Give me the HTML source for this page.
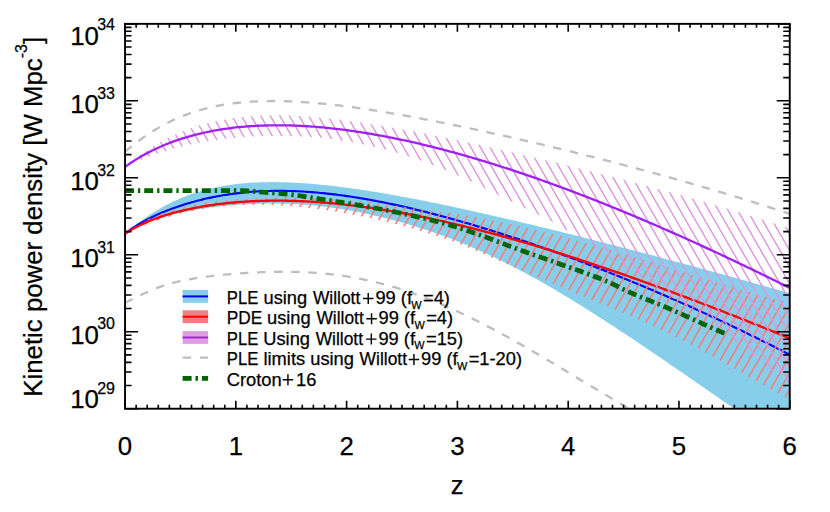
<!DOCTYPE html>
<html><head><meta charset="utf-8"><title>Kinetic power density</title>
<style>
html,body{margin:0;padding:0;background:#fff;}
body{width:830px;height:512px;overflow:hidden;position:relative;font-family:"Liberation Sans",sans-serif;}
</style></head><body>
<svg width="830" height="512" viewBox="0 0 830 512" style="position:absolute;left:0;top:0">
<defs>
<clipPath id="plot"><rect x="125.05" y="23.85" width="664.7" height="384.84999999999997"/></clipPath>
<clipPath id="cpurple"><path d="M125.05,166.90 L127.27,165.00 L129.50,163.15 L131.72,161.35 L133.94,159.60 L136.17,157.89 L138.39,156.23 L140.61,154.62 L142.83,153.04 L145.06,151.51 L147.28,150.02 L149.50,148.58 L151.73,147.17 L153.95,145.80 L156.17,144.47 L158.40,143.17 L160.62,141.92 L162.84,140.70 L165.07,139.52 L167.29,138.37 L169.51,137.26 L171.73,136.18 L173.96,135.14 L176.18,134.13 L178.40,133.16 L180.63,132.21 L182.85,131.30 L185.07,130.42 L187.30,129.57 L189.52,128.76 L191.74,127.97 L193.97,127.21 L196.19,126.48 L198.41,125.78 L200.63,125.10 L202.86,124.46 L205.08,123.84 L207.30,123.24 L209.53,122.67 L211.75,122.13 L213.97,121.61 L216.20,121.12 L218.42,120.65 L220.64,120.20 L222.87,119.78 L225.09,119.38 L227.31,119.00 L229.53,118.64 L231.76,118.30 L233.98,117.99 L236.20,117.69 L238.43,117.41 L240.65,117.16 L242.87,116.92 L245.10,116.70 L247.32,116.49 L249.54,116.31 L251.77,116.14 L253.99,115.99 L256.21,115.86 L258.43,115.74 L260.66,115.63 L262.88,115.55 L265.10,115.47 L267.33,115.42 L269.55,115.37 L271.77,115.34 L274.00,115.33 L276.22,115.32 L278.44,115.33 L280.67,115.36 L282.89,115.39 L285.11,115.44 L287.33,115.50 L289.56,115.57 L291.78,115.65 L294.00,115.74 L296.23,115.85 L298.45,115.96 L300.67,116.09 L302.90,116.22 L305.12,116.36 L307.34,116.52 L309.57,116.68 L311.79,116.85 L314.01,117.03 L316.23,117.22 L318.46,117.42 L320.68,117.63 L322.90,117.84 L325.13,118.06 L327.35,118.29 L329.57,118.53 L331.80,118.77 L334.02,119.02 L336.24,119.28 L338.47,119.55 L340.69,119.82 L342.91,120.10 L345.13,120.38 L347.36,120.67 L349.58,120.97 L351.80,121.27 L354.03,121.58 L356.25,121.89 L358.47,122.21 L360.70,122.53 L362.92,122.86 L365.14,123.20 L367.37,123.53 L369.59,123.88 L371.81,124.23 L374.03,124.58 L376.26,124.94 L378.48,125.30 L380.70,125.66 L382.93,126.03 L385.15,126.41 L387.37,126.79 L389.60,127.17 L391.82,127.55 L394.04,127.94 L396.27,128.34 L398.49,128.73 L400.71,129.13 L402.93,129.54 L405.16,129.94 L407.38,130.35 L409.60,130.77 L411.83,131.18 L414.05,131.60 L416.27,132.03 L418.50,132.45 L420.72,132.88 L422.94,133.31 L425.17,133.74 L427.39,134.18 L429.61,134.62 L431.83,135.06 L434.06,135.50 L436.28,135.95 L438.50,136.40 L440.73,136.85 L442.95,137.30 L445.17,137.76 L447.40,138.21 L449.62,138.67 L451.84,139.13 L454.07,139.60 L456.29,140.06 L458.51,140.53 L460.73,141.00 L462.96,141.48 L465.18,141.95 L467.40,142.43 L469.63,142.90 L471.85,143.38 L474.07,143.86 L476.30,144.35 L478.52,144.83 L480.74,145.32 L482.97,145.81 L485.19,146.30 L487.41,146.79 L489.63,147.28 L491.86,147.78 L494.08,148.28 L496.30,148.78 L498.53,149.28 L500.75,149.78 L502.97,150.28 L505.20,150.79 L507.42,151.29 L509.64,151.80 L511.87,152.31 L514.09,152.82 L516.31,153.33 L518.53,153.85 L520.76,154.36 L522.98,154.88 L525.20,155.40 L527.43,155.92 L529.65,156.44 L531.87,156.96 L534.10,157.49 L536.32,158.01 L538.54,158.54 L540.77,159.07 L542.99,159.60 L545.21,160.13 L547.43,160.66 L549.66,161.20 L551.88,161.73 L554.10,162.27 L556.33,162.81 L558.55,163.35 L560.77,163.89 L563.00,164.43 L565.22,164.97 L567.44,165.52 L569.67,166.07 L571.89,166.61 L574.11,167.16 L576.33,167.72 L578.56,168.27 L580.78,168.82 L583.00,169.38 L585.23,169.93 L587.45,170.49 L589.67,171.05 L591.90,171.61 L594.12,172.18 L596.34,172.74 L598.57,173.31 L600.79,173.87 L603.01,174.44 L605.23,175.01 L607.46,175.58 L609.68,176.16 L611.90,176.73 L614.13,177.31 L616.35,177.88 L618.57,178.46 L620.80,179.04 L623.02,179.62 L625.24,180.21 L627.47,180.79 L629.69,181.38 L631.91,181.97 L634.13,182.56 L636.36,183.15 L638.58,183.74 L640.80,184.34 L643.03,184.93 L645.25,185.53 L647.47,186.13 L649.70,186.73 L651.92,187.34 L654.14,187.94 L656.37,188.55 L658.59,189.16 L660.81,189.77 L663.03,190.38 L665.26,190.99 L667.48,191.60 L669.70,192.22 L671.93,192.84 L674.15,193.46 L676.37,194.08 L678.60,194.71 L680.82,195.33 L683.04,195.96 L685.27,196.59 L687.49,197.22 L689.71,197.85 L691.93,198.49 L694.16,199.12 L696.38,199.76 L698.60,200.40 L700.83,201.04 L703.05,201.69 L705.27,202.33 L707.50,202.98 L709.72,203.63 L711.94,204.28 L714.17,204.94 L716.39,205.59 L718.61,206.25 L720.83,206.91 L723.06,207.57 L725.28,208.24 L727.50,208.90 L729.73,209.57 L731.95,210.24 L734.17,210.91 L736.40,211.59 L738.62,212.26 L740.84,212.94 L743.07,213.62 L745.29,214.31 L747.51,214.99 L749.73,215.68 L751.96,216.37 L754.18,217.06 L756.40,217.75 L758.63,218.45 L760.85,219.15 L763.07,219.85 L765.30,220.55 L767.52,221.25 L769.74,221.96 L771.97,222.67 L774.19,223.38 L776.41,224.10 L778.63,224.81 L780.86,225.53 L783.08,226.25 L785.30,226.97 L787.53,227.70 L789.75,228.43 L789.75,384.08 L787.53,382.44 L785.30,380.77 L783.08,379.09 L780.86,377.40 L778.63,375.69 L776.41,373.97 L774.19,372.24 L771.97,370.49 L769.74,368.74 L767.52,366.98 L765.30,365.21 L763.07,363.43 L760.85,361.65 L758.63,359.87 L756.40,358.08 L754.18,356.29 L751.96,354.50 L749.73,352.71 L747.51,350.92 L745.29,349.14 L743.07,347.36 L740.84,345.59 L738.62,343.82 L736.40,342.06 L734.17,340.31 L731.95,338.58 L729.73,336.85 L727.50,335.14 L725.28,333.45 L723.06,331.78 L720.83,330.12 L718.61,328.48 L716.39,326.86 L714.17,325.26 L711.94,323.68 L709.72,322.12 L707.50,320.57 L705.27,319.04 L703.05,317.52 L700.83,316.02 L698.60,314.53 L696.38,313.05 L694.16,311.59 L691.93,310.14 L689.71,308.70 L687.49,307.27 L685.27,305.86 L683.04,304.45 L680.82,303.04 L678.60,301.65 L676.37,300.26 L674.15,298.88 L671.93,297.50 L669.70,296.13 L667.48,294.76 L665.26,293.40 L663.03,292.03 L660.81,290.66 L658.59,289.30 L656.37,287.93 L654.14,286.56 L651.92,285.19 L649.70,283.81 L647.47,282.43 L645.25,281.04 L643.03,279.64 L640.80,278.23 L638.58,276.82 L636.36,275.39 L634.13,273.96 L631.91,272.52 L629.69,271.07 L627.47,269.62 L625.24,268.16 L623.02,266.69 L620.80,265.22 L618.57,263.75 L616.35,262.27 L614.13,260.79 L611.90,259.31 L609.68,257.82 L607.46,256.34 L605.23,254.86 L603.01,253.38 L600.79,251.89 L598.57,250.42 L596.34,248.94 L594.12,247.47 L591.90,246.00 L589.67,244.54 L587.45,243.09 L585.23,241.65 L583.00,240.21 L580.78,238.78 L578.56,237.36 L576.33,235.96 L574.11,234.56 L571.89,233.19 L569.67,231.82 L567.44,230.47 L565.22,229.14 L563.00,227.83 L560.77,226.54 L558.55,225.27 L556.33,224.03 L554.10,222.80 L551.88,221.60 L549.66,220.43 L547.43,219.27 L545.21,218.13 L542.99,217.01 L540.77,215.90 L538.54,214.81 L536.32,213.72 L534.10,212.64 L531.87,211.56 L529.65,210.49 L527.43,209.41 L525.20,208.33 L522.98,207.25 L520.76,206.16 L518.53,205.06 L516.31,203.96 L514.09,202.86 L511.87,201.75 L509.64,200.63 L507.42,199.52 L505.20,198.40 L502.97,197.28 L500.75,196.16 L498.53,195.04 L496.30,193.93 L494.08,192.81 L491.86,191.69 L489.63,190.58 L487.41,189.47 L485.19,188.37 L482.97,187.27 L480.74,186.17 L478.52,185.09 L476.30,184.01 L474.07,182.93 L471.85,181.87 L469.63,180.82 L467.40,179.78 L465.18,178.75 L462.96,177.73 L460.73,176.73 L458.51,175.73 L456.29,174.74 L454.07,173.77 L451.84,172.81 L449.62,171.85 L447.40,170.91 L445.17,169.98 L442.95,169.07 L440.73,168.16 L438.50,167.27 L436.28,166.38 L434.06,165.51 L431.83,164.65 L429.61,163.81 L427.39,162.97 L425.17,162.15 L422.94,161.34 L420.72,160.54 L418.50,159.75 L416.27,158.98 L414.05,158.21 L411.83,157.46 L409.60,156.73 L407.38,156.00 L405.16,155.29 L402.93,154.59 L400.71,153.90 L398.49,153.23 L396.27,152.56 L394.04,151.92 L391.82,151.28 L389.60,150.66 L387.37,150.04 L385.15,149.45 L382.93,148.86 L380.70,148.29 L378.48,147.73 L376.26,147.19 L374.03,146.66 L371.81,146.14 L369.59,145.63 L367.37,145.14 L365.14,144.66 L362.92,144.19 L360.70,143.74 L358.47,143.30 L356.25,142.87 L354.03,142.46 L351.80,142.06 L349.58,141.67 L347.36,141.30 L345.13,140.94 L342.91,140.59 L340.69,140.26 L338.47,139.94 L336.24,139.63 L334.02,139.34 L331.80,139.06 L329.57,138.79 L327.35,138.53 L325.13,138.29 L322.90,138.06 L320.68,137.85 L318.46,137.64 L316.23,137.45 L314.01,137.27 L311.79,137.10 L309.57,136.95 L307.34,136.81 L305.12,136.67 L302.90,136.56 L300.67,136.45 L298.45,136.35 L296.23,136.27 L294.00,136.19 L291.78,136.13 L289.56,136.07 L287.33,136.03 L285.11,136.00 L282.89,135.97 L280.67,135.96 L278.44,135.95 L276.22,135.96 L274.00,135.97 L271.77,135.99 L269.55,136.02 L267.33,136.06 L265.10,136.11 L262.88,136.17 L260.66,136.23 L258.43,136.31 L256.21,136.40 L253.99,136.50 L251.77,136.61 L249.54,136.73 L247.32,136.86 L245.10,137.00 L242.87,137.16 L240.65,137.32 L238.43,137.50 L236.20,137.68 L233.98,137.88 L231.76,138.10 L229.53,138.32 L227.31,138.56 L225.09,138.81 L222.87,139.07 L220.64,139.34 L218.42,139.63 L216.20,139.93 L213.97,140.25 L211.75,140.58 L209.53,140.92 L207.30,141.28 L205.08,141.66 L202.86,142.04 L200.63,142.45 L198.41,142.86 L196.19,143.30 L193.97,143.75 L191.74,144.22 L189.52,144.70 L187.30,145.20 L185.07,145.71 L182.85,146.25 L180.63,146.80 L178.40,147.37 L176.18,147.95 L173.96,148.56 L171.73,149.18 L169.51,149.82 L167.29,150.48 L165.07,151.16 L162.84,151.86 L160.62,152.58 L158.40,153.32 L156.17,154.08 L153.95,154.86 L151.73,155.66 L149.50,156.48 L147.28,157.32 L145.06,158.18 L142.83,159.07 L140.61,159.97 L138.39,160.90 L136.17,161.84 L133.94,162.81 L131.72,163.80 L129.50,164.82 L127.27,165.85 L125.05,166.90Z"/></clipPath>
<clipPath id="cred"><path d="M125.05,233.70 L127.27,231.95 L129.50,230.29 L131.72,228.71 L133.94,227.20 L136.17,225.76 L138.39,224.39 L140.61,223.08 L142.83,221.83 L145.06,220.64 L147.28,219.51 L149.50,218.42 L151.73,217.38 L153.95,216.39 L156.17,215.45 L158.40,214.55 L160.62,213.68 L162.84,212.86 L165.07,212.07 L167.29,211.32 L169.51,210.60 L171.73,209.91 L173.96,209.26 L176.18,208.63 L178.40,208.03 L180.63,207.46 L182.85,206.91 L185.07,206.39 L187.30,205.89 L189.52,205.41 L191.74,204.95 L193.97,204.52 L196.19,204.11 L198.41,203.71 L200.63,203.34 L202.86,202.98 L205.08,202.63 L207.30,202.31 L209.53,202.00 L211.75,201.70 L213.97,201.42 L216.20,201.16 L218.42,200.91 L220.64,200.67 L222.87,200.44 L225.09,200.22 L227.31,200.02 L229.53,199.83 L231.76,199.65 L233.98,199.48 L236.20,199.31 L238.43,199.16 L240.65,199.02 L242.87,198.89 L245.10,198.76 L247.32,198.65 L249.54,198.54 L251.77,198.44 L253.99,198.35 L256.21,198.26 L258.43,198.18 L260.66,198.11 L262.88,198.05 L265.10,197.99 L267.33,197.94 L269.55,197.89 L271.77,197.85 L274.00,197.82 L276.22,197.79 L278.44,197.76 L280.67,197.74 L282.89,197.73 L285.11,197.72 L287.33,197.72 L289.56,197.71 L291.78,197.72 L294.00,197.73 L296.23,197.74 L298.45,197.76 L300.67,197.79 L302.90,197.82 L305.12,197.86 L307.34,197.90 L309.57,197.95 L311.79,198.01 L314.01,198.07 L316.23,198.14 L318.46,198.21 L320.68,198.29 L322.90,198.38 L325.13,198.48 L327.35,198.58 L329.57,198.69 L331.80,198.80 L334.02,198.93 L336.24,199.06 L338.47,199.20 L340.69,199.34 L342.91,199.50 L345.13,199.65 L347.36,199.82 L349.58,200.00 L351.80,200.18 L354.03,200.37 L356.25,200.57 L358.47,200.77 L360.70,200.98 L362.92,201.20 L365.14,201.43 L367.37,201.66 L369.59,201.91 L371.81,202.16 L374.03,202.41 L376.26,202.68 L378.48,202.95 L380.70,203.23 L382.93,203.52 L385.15,203.81 L387.37,204.12 L389.60,204.43 L391.82,204.74 L394.04,205.07 L396.27,205.40 L398.49,205.74 L400.71,206.09 L402.93,206.44 L405.16,206.80 L407.38,207.16 L409.60,207.52 L411.83,207.89 L414.05,208.25 L416.27,208.60 L418.50,208.95 L420.72,209.30 L422.94,209.64 L425.17,209.96 L427.39,210.28 L429.61,210.58 L431.83,210.87 L434.06,211.15 L436.28,211.41 L438.50,211.65 L440.73,211.88 L442.95,212.09 L445.17,212.31 L447.40,212.54 L449.62,212.79 L451.84,213.06 L454.07,213.34 L456.29,213.65 L458.51,213.97 L460.73,214.31 L462.96,214.66 L465.18,215.02 L467.40,215.39 L469.63,215.78 L471.85,216.18 L474.07,216.58 L476.30,216.99 L478.52,217.42 L480.74,217.84 L482.97,218.28 L485.19,218.71 L487.41,219.16 L489.63,219.61 L491.86,220.06 L494.08,220.52 L496.30,220.99 L498.53,221.46 L500.75,221.93 L502.97,222.41 L505.20,222.89 L507.42,223.38 L509.64,223.87 L511.87,224.36 L514.09,224.86 L516.31,225.36 L518.53,225.87 L520.76,226.38 L522.98,226.89 L525.20,227.41 L527.43,227.92 L529.65,228.45 L531.87,228.97 L534.10,229.50 L536.32,230.03 L538.54,230.57 L540.77,231.10 L542.99,231.65 L545.21,232.19 L547.43,232.74 L549.66,233.29 L551.88,233.85 L554.10,234.41 L556.33,234.97 L558.55,235.54 L560.77,236.11 L563.00,236.69 L565.22,237.26 L567.44,237.85 L569.67,238.43 L571.89,239.02 L574.11,239.61 L576.33,240.21 L578.56,240.81 L580.78,241.41 L583.00,242.02 L585.23,242.63 L587.45,243.25 L589.67,243.86 L591.90,244.49 L594.12,245.11 L596.34,245.74 L598.57,246.38 L600.79,247.01 L603.01,247.65 L605.23,248.30 L607.46,248.95 L609.68,249.60 L611.90,250.25 L614.13,250.91 L616.35,251.57 L618.57,252.23 L620.80,252.90 L623.02,253.56 L625.24,254.23 L627.47,254.91 L629.69,255.58 L631.91,256.26 L634.13,256.93 L636.36,257.61 L638.58,258.29 L640.80,258.97 L643.03,259.66 L645.25,260.34 L647.47,261.03 L649.70,261.71 L651.92,262.40 L654.14,263.09 L656.37,263.77 L658.59,264.46 L660.81,265.15 L663.03,265.84 L665.26,266.53 L667.48,267.22 L669.70,267.91 L671.93,268.60 L674.15,269.29 L676.37,269.98 L678.60,270.67 L680.82,271.36 L683.04,272.04 L685.27,272.73 L687.49,273.42 L689.71,274.10 L691.93,274.79 L694.16,275.47 L696.38,276.16 L698.60,276.84 L700.83,277.52 L703.05,278.20 L705.27,278.88 L707.50,279.56 L709.72,280.23 L711.94,280.91 L714.17,281.58 L716.39,282.26 L718.61,282.93 L720.83,283.59 L723.06,284.26 L725.28,284.93 L727.50,285.59 L729.73,286.25 L731.95,286.91 L734.17,287.57 L736.40,288.23 L738.62,288.88 L740.84,289.53 L743.07,290.18 L745.29,290.83 L747.51,291.48 L749.73,292.12 L751.96,292.76 L754.18,293.40 L756.40,294.04 L758.63,294.67 L760.85,295.30 L763.07,295.93 L765.30,296.56 L767.52,297.18 L769.74,297.80 L771.97,298.42 L774.19,299.04 L776.41,299.65 L778.63,300.26 L780.86,300.87 L783.08,301.47 L785.30,302.08 L787.53,302.67 L789.75,303.27 L789.75,399.92 L787.53,398.69 L785.30,397.47 L783.08,396.24 L780.86,395.00 L778.63,393.76 L776.41,392.52 L774.19,391.28 L771.97,390.03 L769.74,388.78 L767.52,387.52 L765.30,386.27 L763.07,385.01 L760.85,383.75 L758.63,382.48 L756.40,381.22 L754.18,379.95 L751.96,378.69 L749.73,377.42 L747.51,376.16 L745.29,374.89 L743.07,373.62 L740.84,372.35 L738.62,371.09 L736.40,369.82 L734.17,368.56 L731.95,367.30 L729.73,366.04 L727.50,364.78 L725.28,363.53 L723.06,362.28 L720.83,361.03 L718.61,359.79 L716.39,358.54 L714.17,357.31 L711.94,356.08 L709.72,354.85 L707.50,353.63 L705.27,352.42 L703.05,351.21 L700.83,350.01 L698.60,348.81 L696.38,347.63 L694.16,346.45 L691.93,345.28 L689.71,344.11 L687.49,342.96 L685.27,341.82 L683.04,340.68 L680.82,339.56 L678.60,338.44 L676.37,337.33 L674.15,336.23 L671.93,335.14 L669.70,334.05 L667.48,332.98 L665.26,331.91 L663.03,330.85 L660.81,329.79 L658.59,328.75 L656.37,327.71 L654.14,326.68 L651.92,325.65 L649.70,324.63 L647.47,323.62 L645.25,322.62 L643.03,321.62 L640.80,320.63 L638.58,319.64 L636.36,318.66 L634.13,317.69 L631.91,316.72 L629.69,315.75 L627.47,314.79 L625.24,313.84 L623.02,312.89 L620.80,311.94 L618.57,311.00 L616.35,310.06 L614.13,309.13 L611.90,308.20 L609.68,307.27 L607.46,306.35 L605.23,305.42 L603.01,304.50 L600.79,303.59 L598.57,302.67 L596.34,301.75 L594.12,300.84 L591.90,299.93 L589.67,299.02 L587.45,298.11 L585.23,297.19 L583.00,296.28 L580.78,295.37 L578.56,294.46 L576.33,293.54 L574.11,292.62 L571.89,291.71 L569.67,290.79 L567.44,289.86 L565.22,288.94 L563.00,288.02 L560.77,287.09 L558.55,286.16 L556.33,285.23 L554.10,284.30 L551.88,283.36 L549.66,282.42 L547.43,281.49 L545.21,280.55 L542.99,279.60 L540.77,278.66 L538.54,277.72 L536.32,276.77 L534.10,275.82 L531.87,274.87 L529.65,273.93 L527.43,272.97 L525.20,272.02 L522.98,271.07 L520.76,270.12 L518.53,269.16 L516.31,268.21 L514.09,267.25 L511.87,266.29 L509.64,265.34 L507.42,264.38 L505.20,263.42 L502.97,262.46 L500.75,261.51 L498.53,260.55 L496.30,259.59 L494.08,258.63 L491.86,257.68 L489.63,256.72 L487.41,255.76 L485.19,254.81 L482.97,253.85 L480.74,252.90 L478.52,251.95 L476.30,251.00 L474.07,250.05 L471.85,249.11 L469.63,248.17 L467.40,247.24 L465.18,246.32 L462.96,245.42 L460.73,244.52 L458.51,243.63 L456.29,242.76 L454.07,241.91 L451.84,241.08 L449.62,240.26 L447.40,239.47 L445.17,238.70 L442.95,237.96 L440.73,237.23 L438.50,236.51 L436.28,235.79 L434.06,235.09 L431.83,234.40 L429.61,233.71 L427.39,233.03 L425.17,232.35 L422.94,231.69 L420.72,231.03 L418.50,230.38 L416.27,229.74 L414.05,229.11 L411.83,228.48 L409.60,227.87 L407.38,227.26 L405.16,226.65 L402.93,226.06 L400.71,225.47 L398.49,224.89 L396.27,224.32 L394.04,223.76 L391.82,223.20 L389.60,222.66 L387.37,222.12 L385.15,221.58 L382.93,221.06 L380.70,220.54 L378.48,220.03 L376.26,219.53 L374.03,219.04 L371.81,218.55 L369.59,218.07 L367.37,217.59 L365.14,217.13 L362.92,216.67 L360.70,216.22 L358.47,215.77 L356.25,215.34 L354.03,214.91 L351.80,214.48 L349.58,214.07 L347.36,213.66 L345.13,213.26 L342.91,212.86 L340.69,212.48 L338.47,212.10 L336.24,211.73 L334.02,211.37 L331.80,211.01 L329.57,210.67 L327.35,210.33 L325.13,210.00 L322.90,209.68 L320.68,209.37 L318.46,209.06 L316.23,208.77 L314.01,208.49 L311.79,208.21 L309.57,207.94 L307.34,207.68 L305.12,207.44 L302.90,207.20 L300.67,206.97 L298.45,206.75 L296.23,206.54 L294.00,206.34 L291.78,206.16 L289.56,205.98 L287.33,205.81 L285.11,205.66 L282.89,205.51 L280.67,205.38 L278.44,205.25 L276.22,205.14 L274.00,205.04 L271.77,204.95 L269.55,204.88 L267.33,204.81 L265.10,204.76 L262.88,204.72 L260.66,204.70 L258.43,204.68 L256.21,204.68 L253.99,204.69 L251.77,204.72 L249.54,204.75 L247.32,204.81 L245.10,204.87 L242.87,204.95 L240.65,205.04 L238.43,205.15 L236.20,205.28 L233.98,205.41 L231.76,205.57 L229.53,205.73 L227.31,205.92 L225.09,206.11 L222.87,206.33 L220.64,206.56 L218.42,206.81 L216.20,207.07 L213.97,207.35 L211.75,207.64 L209.53,207.96 L207.30,208.29 L205.08,208.64 L202.86,209.00 L200.63,209.38 L198.41,209.79 L196.19,210.20 L193.97,210.64 L191.74,211.10 L189.52,211.57 L187.30,212.07 L185.07,212.58 L182.85,213.11 L180.63,213.67 L178.40,214.24 L176.18,214.83 L173.96,215.44 L171.73,216.07 L169.51,216.72 L167.29,217.39 L165.07,218.08 L162.84,218.79 L160.62,219.52 L158.40,220.27 L156.17,221.04 L153.95,221.83 L151.73,222.64 L149.50,223.47 L147.28,224.31 L145.06,225.18 L142.83,226.06 L140.61,226.96 L138.39,227.88 L136.17,228.82 L133.94,229.77 L131.72,230.73 L129.50,231.71 L127.27,232.70 L125.05,233.70Z"/></clipPath>
</defs>
<g clip-path="url(#plot)">
<path d="M125.05,233.70 L127.27,231.84 L129.50,230.01 L131.72,228.20 L133.94,226.43 L136.17,224.69 L138.39,222.99 L140.61,221.33 L142.83,219.70 L145.06,218.12 L147.28,216.57 L149.50,215.07 L151.73,213.61 L153.95,212.18 L156.17,210.80 L158.40,209.47 L160.62,208.17 L162.84,206.91 L165.07,205.69 L167.29,204.51 L169.51,203.38 L171.73,202.27 L173.96,201.21 L176.18,200.19 L178.40,199.20 L180.63,198.25 L182.85,197.33 L185.07,196.44 L187.30,195.60 L189.52,194.78 L191.74,194.00 L193.97,193.24 L196.19,192.52 L198.41,191.83 L200.63,191.17 L202.86,190.54 L205.08,189.94 L207.30,189.36 L209.53,188.81 L211.75,188.29 L213.97,187.79 L216.20,187.32 L218.42,186.87 L220.64,186.45 L222.87,186.05 L225.09,185.67 L227.31,185.32 L229.53,184.98 L231.76,184.67 L233.98,184.38 L236.20,184.11 L238.43,183.85 L240.65,183.62 L242.87,183.40 L245.10,183.21 L247.32,183.03 L249.54,182.87 L251.77,182.72 L253.99,182.59 L256.21,182.48 L258.43,182.38 L260.66,182.30 L262.88,182.23 L265.10,182.18 L267.33,182.14 L269.55,182.12 L271.77,182.11 L274.00,182.11 L276.22,182.12 L278.44,182.15 L280.67,182.19 L282.89,182.24 L285.11,182.30 L287.33,182.38 L289.56,182.46 L291.78,182.56 L294.00,182.66 L296.23,182.78 L298.45,182.90 L300.67,183.04 L302.90,183.19 L305.12,183.34 L307.34,183.51 L309.57,183.68 L311.79,183.86 L314.01,184.05 L316.23,184.25 L318.46,184.45 L320.68,184.67 L322.90,184.89 L325.13,185.12 L327.35,185.36 L329.57,185.60 L331.80,185.85 L334.02,186.11 L336.24,186.37 L338.47,186.64 L340.69,186.92 L342.91,187.20 L345.13,187.49 L347.36,187.79 L349.58,188.09 L351.80,188.40 L354.03,188.71 L356.25,189.03 L358.47,189.35 L360.70,189.68 L362.92,190.02 L365.14,190.36 L367.37,190.70 L369.59,191.05 L371.81,191.40 L374.03,191.76 L376.26,192.12 L378.48,192.49 L380.70,192.86 L382.93,193.24 L385.15,193.62 L387.37,194.00 L389.60,194.39 L391.82,194.78 L394.04,195.17 L396.27,195.57 L398.49,195.97 L400.71,196.38 L402.93,196.79 L405.16,197.20 L407.38,197.62 L409.60,198.04 L411.83,198.46 L414.05,198.89 L416.27,199.32 L418.50,199.75 L420.72,200.19 L422.94,200.62 L425.17,201.06 L427.39,201.51 L429.61,201.96 L431.83,202.40 L434.06,202.86 L436.28,203.31 L438.50,203.77 L440.73,204.23 L442.95,204.69 L445.17,205.16 L447.40,205.62 L449.62,206.09 L451.84,206.56 L454.07,207.04 L456.29,207.51 L458.51,207.99 L460.73,208.47 L462.96,208.95 L465.18,209.44 L467.40,209.93 L469.63,210.42 L471.85,210.91 L474.07,211.40 L476.30,211.89 L478.52,212.39 L480.74,212.89 L482.97,213.39 L485.19,213.89 L487.41,214.39 L489.63,214.90 L491.86,215.41 L494.08,215.91 L496.30,216.43 L498.53,216.94 L500.75,217.45 L502.97,217.97 L505.20,218.48 L507.42,219.00 L509.64,219.52 L511.87,220.04 L514.09,220.57 L516.31,221.09 L518.53,221.62 L520.76,222.14 L522.98,222.67 L525.20,223.20 L527.43,223.73 L529.65,224.27 L531.87,224.80 L534.10,225.33 L536.32,225.87 L538.54,226.41 L540.77,226.95 L542.99,227.49 L545.21,228.03 L547.43,228.57 L549.66,229.12 L551.88,229.66 L554.10,230.21 L556.33,230.76 L558.55,231.30 L560.77,231.85 L563.00,232.41 L565.22,232.96 L567.44,233.51 L569.67,234.06 L571.89,234.62 L574.11,235.18 L576.33,235.73 L578.56,236.29 L580.78,236.85 L583.00,237.41 L585.23,237.97 L587.45,238.54 L589.67,239.10 L591.90,239.66 L594.12,240.23 L596.34,240.80 L598.57,241.36 L600.79,241.93 L603.01,242.50 L605.23,243.07 L607.46,243.64 L609.68,244.21 L611.90,244.79 L614.13,245.36 L616.35,245.94 L618.57,246.51 L620.80,247.09 L623.02,247.67 L625.24,248.24 L627.47,248.82 L629.69,249.40 L631.91,249.98 L634.13,250.57 L636.36,251.15 L638.58,251.73 L640.80,252.32 L643.03,252.90 L645.25,253.49 L647.47,254.07 L649.70,254.66 L651.92,255.25 L654.14,255.84 L656.37,256.43 L658.59,257.02 L660.81,257.61 L663.03,258.20 L665.26,258.80 L667.48,259.39 L669.70,259.99 L671.93,260.58 L674.15,261.18 L676.37,261.77 L678.60,262.37 L680.82,262.97 L683.04,263.57 L685.27,264.17 L687.49,264.77 L689.71,265.37 L691.93,265.97 L694.16,266.58 L696.38,267.18 L698.60,267.79 L700.83,268.39 L703.05,269.00 L705.27,269.60 L707.50,270.21 L709.72,270.82 L711.94,271.43 L714.17,272.04 L716.39,272.65 L718.61,273.26 L720.83,273.87 L723.06,274.48 L725.28,275.10 L727.50,275.71 L729.73,276.32 L731.95,276.94 L734.17,277.56 L736.40,278.17 L738.62,278.79 L740.84,279.41 L743.07,280.03 L745.29,280.65 L747.51,281.27 L749.73,281.89 L751.96,282.51 L754.18,283.13 L756.40,283.75 L758.63,284.38 L760.85,285.00 L763.07,285.63 L765.30,286.25 L767.52,286.88 L769.74,287.51 L771.97,288.13 L774.19,288.76 L776.41,289.39 L778.63,290.02 L780.86,290.65 L783.08,291.28 L785.30,291.91 L787.53,292.55 L789.75,293.18 L789.75,408.70 L787.53,408.70 L785.30,408.70 L783.08,408.70 L780.86,408.70 L778.63,408.70 L776.41,408.70 L774.19,408.70 L771.97,408.70 L769.74,408.70 L767.52,408.70 L765.30,408.70 L763.07,408.70 L760.85,408.70 L758.63,408.70 L756.40,408.70 L754.18,408.70 L751.96,408.70 L749.73,408.70 L747.51,408.70 L745.29,408.70 L743.07,408.70 L740.84,408.70 L738.62,408.70 L736.40,408.70 L734.17,408.65 L731.95,407.11 L729.73,405.57 L727.50,404.03 L725.28,402.49 L723.06,400.95 L720.83,399.41 L718.61,397.87 L716.39,396.33 L714.17,394.79 L711.94,393.25 L709.72,391.71 L707.50,390.18 L705.27,388.64 L703.05,387.10 L700.83,385.56 L698.60,384.02 L696.38,382.49 L694.16,380.95 L691.93,379.42 L689.71,377.88 L687.49,376.35 L685.27,374.82 L683.04,373.29 L680.82,371.76 L678.60,370.23 L676.37,368.70 L674.15,367.17 L671.93,365.65 L669.70,364.13 L667.48,362.60 L665.26,361.08 L663.03,359.57 L660.81,358.05 L658.59,356.53 L656.37,355.02 L654.14,353.51 L651.92,352.00 L649.70,350.50 L647.47,348.99 L645.25,347.49 L643.03,345.99 L640.80,344.50 L638.58,343.00 L636.36,341.51 L634.13,340.02 L631.91,338.54 L629.69,337.06 L627.47,335.58 L625.24,334.11 L623.02,332.63 L620.80,331.17 L618.57,329.70 L616.35,328.24 L614.13,326.79 L611.90,325.33 L609.68,323.88 L607.46,322.44 L605.23,321.00 L603.01,319.56 L600.79,318.13 L598.57,316.71 L596.34,315.28 L594.12,313.87 L591.90,312.45 L589.67,311.05 L587.45,309.64 L585.23,308.25 L583.00,306.86 L580.78,305.47 L578.56,304.09 L576.33,302.71 L574.11,301.34 L571.89,299.98 L569.67,298.62 L567.44,297.27 L565.22,295.93 L563.00,294.59 L560.77,293.26 L558.55,291.94 L556.33,290.62 L554.10,289.31 L551.88,288.01 L549.66,286.71 L547.43,285.42 L545.21,284.14 L542.99,282.87 L540.77,281.61 L538.54,280.35 L536.32,279.11 L534.10,277.87 L531.87,276.64 L529.65,275.42 L527.43,274.21 L525.20,273.01 L522.98,271.82 L520.76,270.63 L518.53,269.46 L516.31,268.30 L514.09,267.15 L511.87,266.01 L509.64,264.88 L507.42,263.75 L505.20,262.64 L502.97,261.54 L500.75,260.45 L498.53,259.37 L496.30,258.31 L494.08,257.25 L491.86,256.20 L489.63,255.16 L487.41,254.13 L485.19,253.12 L482.97,252.11 L480.74,251.11 L478.52,250.13 L476.30,249.15 L474.07,248.19 L471.85,247.23 L469.63,246.29 L467.40,245.36 L465.18,244.44 L462.96,243.52 L460.73,242.62 L458.51,241.73 L456.29,240.85 L454.07,239.98 L451.84,239.12 L449.62,238.27 L447.40,237.43 L445.17,236.61 L442.95,235.79 L440.73,234.98 L438.50,234.19 L436.28,233.40 L434.06,232.62 L431.83,231.86 L429.61,231.10 L427.39,230.36 L425.17,229.62 L422.94,228.90 L420.72,228.18 L418.50,227.48 L416.27,226.78 L414.05,226.10 L411.83,225.42 L409.60,224.76 L407.38,224.10 L405.16,223.45 L402.93,222.82 L400.71,222.19 L398.49,221.57 L396.27,220.96 L394.04,220.36 L391.82,219.77 L389.60,219.19 L387.37,218.62 L385.15,218.06 L382.93,217.50 L380.70,216.96 L378.48,216.43 L376.26,215.91 L374.03,215.39 L371.81,214.89 L369.59,214.40 L367.37,213.91 L365.14,213.44 L362.92,212.98 L360.70,212.53 L358.47,212.09 L356.25,211.66 L354.03,211.24 L351.80,210.83 L349.58,210.43 L347.36,210.04 L345.13,209.66 L342.91,209.29 L340.69,208.94 L338.47,208.59 L336.24,208.26 L334.02,207.94 L331.80,207.62 L329.57,207.32 L327.35,207.04 L325.13,206.76 L322.90,206.49 L320.68,206.24 L318.46,205.99 L316.23,205.76 L314.01,205.54 L311.79,205.33 L309.57,205.13 L307.34,204.94 L305.12,204.77 L302.90,204.61 L300.67,204.45 L298.45,204.31 L296.23,204.19 L294.00,204.07 L291.78,203.96 L289.56,203.87 L287.33,203.79 L285.11,203.72 L282.89,203.66 L280.67,203.61 L278.44,203.57 L276.22,203.55 L274.00,203.54 L271.77,203.54 L269.55,203.54 L267.33,203.56 L265.10,203.60 L262.88,203.64 L260.66,203.69 L258.43,203.75 L256.21,203.83 L253.99,203.91 L251.77,204.01 L249.54,204.11 L247.32,204.22 L245.10,204.35 L242.87,204.48 L240.65,204.62 L238.43,204.77 L236.20,204.93 L233.98,205.10 L231.76,205.28 L229.53,205.46 L227.31,205.66 L225.09,205.86 L222.87,206.08 L220.64,206.31 L218.42,206.55 L216.20,206.79 L213.97,207.06 L211.75,207.33 L209.53,207.61 L207.30,207.91 L205.08,208.22 L202.86,208.55 L200.63,208.89 L198.41,209.24 L196.19,209.61 L193.97,209.99 L191.74,210.39 L189.52,210.80 L187.30,211.24 L185.07,211.69 L182.85,212.16 L180.63,212.64 L178.40,213.15 L176.18,213.68 L173.96,214.23 L171.73,214.79 L169.51,215.39 L167.29,216.00 L165.07,216.64 L162.84,217.31 L160.62,218.00 L158.40,218.72 L156.17,219.47 L153.95,220.24 L151.73,221.05 L149.50,221.89 L147.28,222.76 L145.06,223.67 L142.83,224.62 L140.61,225.60 L138.39,226.62 L136.17,227.68 L133.94,228.79 L131.72,229.94 L129.50,231.15 L127.27,232.40 L125.05,233.70Z" fill="#87ceeb" stroke="none"/>
<path d="M125.00,233.70 L127.22,231.98 L129.45,230.31 L131.67,228.73 L133.90,227.23 L136.12,225.79 L138.34,224.42 L140.57,223.11 L142.79,221.85 L145.02,220.63 L147.24,219.46 L149.46,218.33 L151.69,217.24 L153.91,216.18 L156.14,215.15 L158.36,214.16 L160.59,213.20 L162.81,212.26 L165.03,211.35 L167.26,210.47 L169.48,209.61 L171.71,208.78 L173.93,207.97 L176.15,207.18 L178.38,206.42 L180.60,205.68 L182.83,204.96 L185.05,204.25 L187.27,203.58 L189.50,202.92 L191.72,202.28 L193.95,201.66 L196.17,201.06 L198.39,200.48 L200.62,199.91 L202.84,199.37 L205.07,198.85 L207.29,198.34 L209.52,197.85 L211.74,197.38 L213.96,196.93 L216.19,196.50 L218.41,196.08 L220.64,195.68 L222.86,195.30 L225.08,194.93 L227.31,194.59 L229.53,194.25 L231.76,193.94 L233.98,193.64 L236.20,193.36 L238.43,193.09 L240.65,192.84 L242.88,192.61 L245.10,192.39 L247.32,192.18 L249.55,191.99 L251.77,191.82 L254.00,191.66 L256.22,191.51 L258.44,191.38 L260.67,191.27 L262.89,191.17 L265.12,191.08 L267.34,191.00 L269.57,190.94 L271.79,190.90 L274.01,190.86 L276.24,190.84 L278.46,190.84 L280.69,190.84 L282.91,190.86 L285.13,190.89 L287.36,190.93 L289.58,190.98 L291.81,191.05 L294.03,191.13 L296.25,191.22 L298.48,191.32 L300.70,191.43 L302.93,191.56 L305.15,191.69 L307.37,191.84 L309.60,191.99 L311.82,192.16 L314.05,192.34 L316.27,192.53 L318.49,192.72 L320.72,192.93 L322.94,193.15 L325.17,193.38 L327.39,193.62 L329.62,193.86 L331.84,194.12 L334.06,194.38 L336.29,194.66 L338.51,194.94 L340.74,195.23 L342.96,195.53 L345.18,195.84 L347.41,196.16 L349.63,196.49 L351.86,196.82 L354.08,197.17 L356.30,197.52 L358.53,197.87 L360.75,198.24 L362.98,198.62 L365.20,199.00 L367.42,199.39 L369.65,199.78 L371.87,200.19 L374.10,200.60 L376.32,201.02 L378.55,201.44 L380.77,201.87 L382.99,202.31 L385.22,202.76 L387.44,203.21 L389.67,203.67 L391.89,204.14 L394.11,204.61 L396.34,205.09 L398.56,205.57 L400.79,206.06 L403.01,206.56 L405.23,207.06 L407.46,207.57 L409.68,208.08 L411.91,208.60 L414.13,209.13 L416.35,209.66 L418.58,210.20 L420.80,210.74 L423.03,211.29 L425.25,211.85 L427.47,212.40 L429.70,212.97 L431.92,213.54 L434.15,214.11 L436.37,214.69 L438.60,215.28 L440.82,215.87 L443.04,216.46 L445.27,217.06 L447.49,217.67 L449.72,218.28 L451.94,218.89 L454.16,219.51 L456.39,220.14 L458.61,220.76 L460.84,221.40 L463.06,222.04 L465.28,222.68 L467.51,223.32 L469.73,223.98 L471.96,224.63 L474.18,225.29 L476.40,225.95 L478.63,226.62 L480.85,227.30 L483.08,227.97 L485.30,228.65 L487.53,229.34 L489.75,230.03 L491.97,230.72 L494.20,231.42 L496.42,232.12 L498.65,232.82 L500.87,233.53 L503.09,234.25 L505.32,234.96 L507.54,235.68 L509.77,236.41 L511.99,237.14 L514.21,237.87 L516.44,238.61 L518.66,239.35 L520.89,240.09 L523.11,240.84 L525.33,241.59 L527.56,242.34 L529.78,243.10 L532.01,243.86 L534.23,244.63 L536.45,245.40 L538.68,246.17 L540.90,246.95 L543.13,247.73 L545.35,248.51 L547.58,249.30 L549.80,250.09 L552.02,250.88 L554.25,251.68 L556.47,252.48 L558.70,253.29 L560.92,254.09 L563.14,254.90 L565.37,255.72 L567.59,256.54 L569.82,257.36 L572.04,258.18 L574.26,259.01 L576.49,259.84 L578.71,260.68 L580.94,261.52 L583.16,262.36 L585.38,263.20 L587.61,264.05 L589.83,264.90 L592.06,265.76 L594.28,266.61 L596.51,267.48 L598.73,268.34 L600.95,269.21 L603.18,270.08 L605.40,270.95 L607.63,271.83 L609.85,272.71 L612.07,273.60 L614.30,274.48 L616.52,275.38 L618.75,276.27 L620.97,277.17 L623.19,278.07 L625.42,278.97 L627.64,279.88 L629.87,280.79 L632.09,281.70 L634.31,282.62 L636.54,283.54 L638.76,284.46 L640.99,285.39 L643.21,286.32 L645.43,287.25 L647.66,288.18 L649.88,289.12 L652.11,290.07 L654.33,291.01 L656.56,291.96 L658.78,292.91 L661.00,293.87 L663.23,294.82 L665.45,295.79 L667.68,296.75 L669.90,297.72 L672.12,298.69 L674.35,299.66 L676.57,300.64 L678.80,301.62 L681.02,302.61 L683.24,303.60 L685.47,304.59 L687.69,305.58 L689.92,306.58 L692.14,307.58 L694.36,308.58 L696.59,309.59 L698.81,310.60 L701.04,311.61 L703.26,312.63 L705.48,313.65 L707.71,314.67 L709.93,315.70 L712.16,316.73 L714.38,317.76 L716.61,318.80 L718.83,319.83 L721.05,320.88 L723.28,321.92 L725.50,322.97 L727.73,324.03 L729.95,325.08 L732.17,326.14 L734.40,327.20 L736.62,328.27 L738.85,329.34 L741.07,330.41 L743.29,331.49 L745.52,332.57 L747.74,333.65 L749.97,334.73 L752.19,335.82 L754.41,336.92 L756.64,338.01 L758.86,339.11 L761.09,340.21 L763.31,341.32 L765.54,342.43 L767.76,343.54 L769.98,344.66 L772.21,345.78 L774.43,346.90 L776.66,348.03 L778.88,349.16 L781.10,350.29 L783.33,351.43 L785.55,352.57 L787.78,353.71 L790.00,354.86" stroke="#0000ff" stroke-width="2.1" fill="none"/>
<g><path d="M-396.70,0 L-692.31,512 M-387.10,0 L-682.71,512 M-377.50,0 L-673.11,512 M-367.90,0 L-663.51,512 M-358.30,0 L-653.91,512 M-348.70,0 L-644.31,512 M-339.10,0 L-634.71,512 M-329.50,0 L-625.11,512 M-319.90,0 L-615.51,512 M-310.30,0 L-605.91,512 M-300.70,0 L-596.31,512 M-291.10,0 L-586.71,512 M-281.50,0 L-577.11,512 M-271.90,0 L-567.51,512 M-262.30,0 L-557.91,512 M-252.70,0 L-548.31,512 M-243.10,0 L-538.71,512 M-233.50,0 L-529.11,512 M-223.90,0 L-519.51,512 M-214.30,0 L-509.91,512 M-204.70,0 L-500.31,512 M-195.10,0 L-490.71,512 M-185.50,0 L-481.11,512 M-175.90,0 L-471.51,512 M-166.30,0 L-461.91,512 M-156.70,0 L-452.31,512 M-147.10,0 L-442.71,512 M-137.50,0 L-433.11,512 M-127.90,0 L-423.51,512 M-118.30,0 L-413.91,512 M-108.70,0 L-404.31,512 M-99.10,0 L-394.71,512 M-89.50,0 L-385.11,512 M-79.90,0 L-375.51,512 M-70.30,0 L-365.91,512 M-60.70,0 L-356.31,512 M-51.10,0 L-346.71,512 M-41.50,0 L-337.11,512 M-31.90,0 L-327.51,512 M-22.30,0 L-317.91,512 M-12.70,0 L-308.31,512 M-3.10,0 L-298.71,512 M6.50,0 L-289.11,512 M16.10,0 L-279.51,512 M25.70,0 L-269.91,512 M35.30,0 L-260.31,512 M44.90,0 L-250.71,512 M54.50,0 L-241.11,512 M64.10,0 L-231.51,512 M73.70,0 L-221.91,512 M83.30,0 L-212.31,512 M92.90,0 L-202.71,512 M102.50,0 L-193.11,512 M112.10,0 L-183.51,512 M121.70,0 L-173.91,512 M131.30,0 L-164.31,512 M140.90,0 L-154.71,512 M150.50,0 L-145.11,512 M160.10,0 L-135.51,512 M169.70,0 L-125.91,512 M179.30,0 L-116.31,512 M188.90,0 L-106.71,512 M198.50,0 L-97.11,512 M208.10,0 L-87.51,512 M217.70,0 L-77.91,512 M227.30,0 L-68.31,512 M236.90,0 L-58.71,512 M246.50,0 L-49.11,512 M256.10,0 L-39.51,512 M265.70,0 L-29.91,512 M275.30,0 L-20.31,512 M284.90,0 L-10.71,512 M294.50,0 L-1.11,512 M304.10,0 L8.49,512 M313.70,0 L18.09,512 M323.30,0 L27.69,512 M332.90,0 L37.29,512 M342.50,0 L46.89,512 M352.10,0 L56.49,512 M361.70,0 L66.09,512 M371.30,0 L75.69,512 M380.90,0 L85.29,512 M390.50,0 L94.89,512 M400.10,0 L104.49,512 M409.70,0 L114.09,512 M419.30,0 L123.69,512 M428.90,0 L133.29,512 M438.50,0 L142.89,512 M448.10,0 L152.49,512 M457.70,0 L162.09,512 M467.30,0 L171.69,512 M476.90,0 L181.29,512 M486.50,0 L190.89,512 M496.10,0 L200.49,512 M505.70,0 L210.09,512 M515.30,0 L219.69,512 M524.90,0 L229.29,512 M534.50,0 L238.89,512 M544.10,0 L248.49,512 M553.70,0 L258.09,512 M563.30,0 L267.69,512 M572.90,0 L277.29,512 M582.50,0 L286.89,512 M592.10,0 L296.49,512 M601.70,0 L306.09,512 M611.30,0 L315.69,512 M620.90,0 L325.29,512 M630.50,0 L334.89,512 M640.10,0 L344.49,512 M649.70,0 L354.09,512 M659.30,0 L363.69,512 M668.90,0 L373.29,512 M678.50,0 L382.89,512 M688.10,0 L392.49,512 M697.70,0 L402.09,512 M707.30,0 L411.69,512 M716.90,0 L421.29,512 M726.50,0 L430.89,512 M736.10,0 L440.49,512 M745.70,0 L450.09,512 M755.30,0 L459.69,512 M764.90,0 L469.29,512 M774.50,0 L478.89,512 M784.10,0 L488.49,512 M793.70,0 L498.09,512 M803.30,0 L507.69,512 M812.90,0 L517.29,512 M822.50,0 L526.89,512 M832.10,0 L536.49,512 M841.70,0 L546.09,512 M851.30,0 L555.69,512 M860.90,0 L565.29,512 M870.50,0 L574.89,512 M880.10,0 L584.49,512 M889.70,0 L594.09,512 M899.30,0 L603.69,512 M908.90,0 L613.29,512 M918.50,0 L622.89,512 M928.10,0 L632.49,512 M937.70,0 L642.09,512 M947.30,0 L651.69,512 M956.90,0 L661.29,512 M966.50,0 L670.89,512 M976.10,0 L680.49,512 M985.70,0 L690.09,512 M995.30,0 L699.69,512 M1004.90,0 L709.29,512 M1014.50,0 L718.89,512 M1024.10,0 L728.49,512 M1033.70,0 L738.09,512 M1043.30,0 L747.69,512 M1052.90,0 L757.29,512 M1062.50,0 L766.89,512 M1072.10,0 L776.49,512 M1081.70,0 L786.09,512 M1091.30,0 L795.69,512 M1100.90,0 L805.29,512 M1110.50,0 L814.89,512 M1120.10,0 L824.49,512 M1129.70,0 L834.09,512 M1139.30,0 L843.69,512 M1148.90,0 L853.29,512 M1158.50,0 L862.89,512 M1168.10,0 L872.49,512 M1177.70,0 L882.09,512 M1187.30,0 L891.69,512 M1196.90,0 L901.29,512 M1206.50,0 L910.89,512 M1216.10,0 L920.49,512 M1225.70,0 L930.09,512 M1235.30,0 L939.69,512 M1244.90,0 L949.29,512 M1254.50,0 L958.89,512 M1264.10,0 L968.49,512 M1273.70,0 L978.09,512 M1283.30,0 L987.69,512 M1292.90,0 L997.29,512" stroke="#f08080" stroke-width="1.6" fill="none" clip-path="url(#cred)"/></g>
<path d="M125.00,233.70 L127.22,232.29 L129.44,230.91 L131.66,229.60 L133.88,228.36 L136.10,227.16 L138.32,226.02 L140.55,224.93 L142.77,223.88 L144.99,222.88 L147.21,221.92 L149.43,220.99 L151.65,220.10 L153.87,219.24 L156.09,218.42 L158.31,217.62 L160.53,216.86 L162.75,216.12 L164.97,215.41 L167.19,214.72 L169.41,214.06 L171.64,213.42 L173.86,212.80 L176.08,212.21 L178.30,211.63 L180.52,211.08 L182.74,210.54 L184.96,210.02 L187.18,209.52 L189.40,209.04 L191.62,208.57 L193.84,208.13 L196.06,207.69 L198.28,207.28 L200.51,206.88 L202.73,206.49 L204.95,206.12 L207.17,205.76 L209.39,205.42 L211.61,205.09 L213.83,204.77 L216.05,204.47 L218.27,204.18 L220.49,203.90 L222.71,203.64 L224.93,203.39 L227.15,203.15 L229.37,202.92 L231.60,202.70 L233.82,202.50 L236.04,202.31 L238.26,202.13 L240.48,201.96 L242.70,201.80 L244.92,201.65 L247.14,201.51 L249.36,201.39 L251.58,201.27 L253.80,201.16 L256.02,201.07 L258.24,200.98 L260.46,200.91 L262.69,200.84 L264.91,200.79 L267.13,200.74 L269.35,200.70 L271.57,200.68 L273.79,200.66 L276.01,200.65 L278.23,200.65 L280.45,200.66 L282.67,200.68 L284.89,200.71 L287.11,200.75 L289.33,200.79 L291.56,200.85 L293.78,200.91 L296.00,200.98 L298.22,201.06 L300.44,201.15 L302.66,201.25 L304.88,201.35 L307.10,201.47 L309.32,201.59 L311.54,201.72 L313.76,201.85 L315.98,202.00 L318.20,202.15 L320.42,202.31 L322.65,202.48 L324.87,202.65 L327.09,202.84 L329.31,203.03 L331.53,203.23 L333.75,203.43 L335.97,203.64 L338.19,203.86 L340.41,204.09 L342.63,204.32 L344.85,204.56 L347.07,204.81 L349.29,205.07 L351.52,205.33 L353.74,205.60 L355.96,205.87 L358.18,206.15 L360.40,206.44 L362.62,206.73 L364.84,207.03 L367.06,207.34 L369.28,207.66 L371.50,207.98 L373.72,208.30 L375.94,208.63 L378.16,208.97 L380.38,209.32 L382.61,209.67 L384.83,210.03 L387.05,210.39 L389.27,210.76 L391.49,211.13 L393.71,211.51 L395.93,211.90 L398.15,212.29 L400.37,212.69 L402.59,213.09 L404.81,213.50 L407.03,213.91 L409.25,214.33 L411.47,214.75 L413.70,215.18 L415.92,215.62 L418.14,216.06 L420.36,216.51 L422.58,216.96 L424.80,217.41 L427.02,217.88 L429.24,218.34 L431.46,218.81 L433.68,219.29 L435.90,219.77 L438.12,220.26 L440.34,220.75 L442.57,221.24 L444.79,221.74 L447.01,222.25 L449.23,222.76 L451.45,223.27 L453.67,223.79 L455.89,224.32 L458.11,224.84 L460.33,225.38 L462.55,225.91 L464.77,226.46 L466.99,227.00 L469.21,227.55 L471.43,228.11 L473.66,228.67 L475.88,229.23 L478.10,229.80 L480.32,230.37 L482.54,230.94 L484.76,231.52 L486.98,232.11 L489.20,232.69 L491.42,233.29 L493.64,233.88 L495.86,234.48 L498.08,235.08 L500.30,235.69 L502.53,236.30 L504.75,236.92 L506.97,237.54 L509.19,238.16 L511.41,238.78 L513.63,239.41 L515.85,240.05 L518.07,240.68 L520.29,241.33 L522.51,241.97 L524.73,242.62 L526.95,243.27 L529.17,243.92 L531.39,244.58 L533.62,245.24 L535.84,245.91 L538.06,246.57 L540.28,247.25 L542.50,247.92 L544.72,248.60 L546.94,249.28 L549.16,249.96 L551.38,250.65 L553.60,251.34 L555.82,252.04 L558.04,252.73 L560.26,253.43 L562.48,254.14 L564.71,254.84 L566.93,255.55 L569.15,256.26 L571.37,256.98 L573.59,257.69 L575.81,258.42 L578.03,259.14 L580.25,259.87 L582.47,260.59 L584.69,261.33 L586.91,262.06 L589.13,262.80 L591.35,263.54 L593.58,264.28 L595.80,265.03 L598.02,265.78 L600.24,266.53 L602.46,267.28 L604.68,268.04 L606.90,268.80 L609.12,269.56 L611.34,270.32 L613.56,271.09 L615.78,271.86 L618.00,272.63 L620.22,273.40 L622.44,274.18 L624.67,274.95 L626.89,275.74 L629.11,276.52 L631.33,277.30 L633.55,278.09 L635.77,278.88 L637.99,279.68 L640.21,280.47 L642.43,281.27 L644.65,282.07 L646.87,282.87 L649.09,283.67 L651.31,284.48 L653.54,285.28 L655.76,286.09 L657.98,286.91 L660.20,287.72 L662.42,288.54 L664.64,289.36 L666.86,290.18 L669.08,291.00 L671.30,291.82 L673.52,292.65 L675.74,293.48 L677.96,294.31 L680.18,295.14 L682.40,295.97 L684.63,296.81 L686.85,297.65 L689.07,298.49 L691.29,299.33 L693.51,300.17 L695.73,301.02 L697.95,301.87 L700.17,302.72 L702.39,303.57 L704.61,304.42 L706.83,305.27 L709.05,306.13 L711.27,306.99 L713.49,307.85 L715.72,308.71 L717.94,309.57 L720.16,310.44 L722.38,311.30 L724.60,312.17 L726.82,313.04 L729.04,313.91 L731.26,314.78 L733.48,315.66 L735.70,316.53 L737.92,317.41 L740.14,318.29 L742.36,319.17 L744.59,320.05 L746.81,320.93 L749.03,321.82 L751.25,322.71 L753.47,323.59 L755.69,324.48 L757.91,325.37 L760.13,326.26 L762.35,327.16 L764.57,328.05 L766.79,328.95 L769.01,329.85 L771.23,330.75 L773.45,331.65 L775.68,332.55 L777.90,333.45 L780.12,334.36 L782.34,335.26 L784.56,336.17 L786.78,337.08 L789.00,337.98" stroke="#ff0000" stroke-width="2.3" fill="none"/>
<g><path d="M-401.40,0 L-105.79,512 M-391.80,0 L-96.19,512 M-382.20,0 L-86.59,512 M-372.60,0 L-76.99,512 M-363.00,0 L-67.39,512 M-353.40,0 L-57.79,512 M-343.80,0 L-48.19,512 M-334.20,0 L-38.59,512 M-324.60,0 L-28.99,512 M-315.00,0 L-19.39,512 M-305.40,0 L-9.79,512 M-295.80,0 L-0.19,512 M-286.20,0 L9.41,512 M-276.60,0 L19.01,512 M-267.00,0 L28.61,512 M-257.40,0 L38.21,512 M-247.80,0 L47.81,512 M-238.20,0 L57.41,512 M-228.60,0 L67.01,512 M-219.00,0 L76.61,512 M-209.40,0 L86.21,512 M-199.80,0 L95.81,512 M-190.20,0 L105.41,512 M-180.60,0 L115.01,512 M-171.00,0 L124.61,512 M-161.40,0 L134.21,512 M-151.80,0 L143.81,512 M-142.20,0 L153.41,512 M-132.60,0 L163.01,512 M-123.00,0 L172.61,512 M-113.40,0 L182.21,512 M-103.80,0 L191.81,512 M-94.20,0 L201.41,512 M-84.60,0 L211.01,512 M-75.00,0 L220.61,512 M-65.40,0 L230.21,512 M-55.80,0 L239.81,512 M-46.20,0 L249.41,512 M-36.60,0 L259.01,512 M-27.00,0 L268.61,512 M-17.40,0 L278.21,512 M-7.80,0 L287.81,512 M1.80,0 L297.41,512 M11.40,0 L307.01,512 M21.00,0 L316.61,512 M30.60,0 L326.21,512 M40.20,0 L335.81,512 M49.80,0 L345.41,512 M59.40,0 L355.01,512 M69.00,0 L364.61,512 M78.60,0 L374.21,512 M88.20,0 L383.81,512 M97.80,0 L393.41,512 M107.40,0 L403.01,512 M117.00,0 L412.61,512 M126.60,0 L422.21,512 M136.20,0 L431.81,512 M145.80,0 L441.41,512 M155.40,0 L451.01,512 M165.00,0 L460.61,512 M174.60,0 L470.21,512 M184.20,0 L479.81,512 M193.80,0 L489.41,512 M203.40,0 L499.01,512 M213.00,0 L508.61,512 M222.60,0 L518.21,512 M232.20,0 L527.81,512 M241.80,0 L537.41,512 M251.40,0 L547.01,512 M261.00,0 L556.61,512 M270.60,0 L566.21,512 M280.20,0 L575.81,512 M289.80,0 L585.41,512 M299.40,0 L595.01,512 M309.00,0 L604.61,512 M318.60,0 L614.21,512 M328.20,0 L623.81,512 M337.80,0 L633.41,512 M347.40,0 L643.01,512 M357.00,0 L652.61,512 M366.60,0 L662.21,512 M376.20,0 L671.81,512 M385.80,0 L681.41,512 M395.40,0 L691.01,512 M405.00,0 L700.61,512 M414.60,0 L710.21,512 M424.20,0 L719.81,512 M433.80,0 L729.41,512 M443.40,0 L739.01,512 M453.00,0 L748.61,512 M462.60,0 L758.21,512 M472.20,0 L767.81,512 M481.80,0 L777.41,512 M491.40,0 L787.01,512 M501.00,0 L796.61,512 M510.60,0 L806.21,512 M520.20,0 L815.81,512 M529.80,0 L825.41,512 M539.40,0 L835.01,512 M549.00,0 L844.61,512 M558.60,0 L854.21,512 M568.20,0 L863.81,512 M577.80,0 L873.41,512 M587.40,0 L883.01,512 M597.00,0 L892.61,512 M606.60,0 L902.21,512 M616.20,0 L911.81,512 M625.80,0 L921.41,512 M635.40,0 L931.01,512 M645.00,0 L940.61,512 M654.60,0 L950.21,512 M664.20,0 L959.81,512 M673.80,0 L969.41,512 M683.40,0 L979.01,512 M693.00,0 L988.61,512 M702.60,0 L998.21,512 M712.20,0 L1007.81,512 M721.80,0 L1017.41,512 M731.40,0 L1027.01,512 M741.00,0 L1036.61,512 M750.60,0 L1046.21,512 M760.20,0 L1055.81,512 M769.80,0 L1065.41,512 M779.40,0 L1075.01,512 M789.00,0 L1084.61,512 M798.60,0 L1094.21,512 M808.20,0 L1103.81,512 M817.80,0 L1113.41,512 M827.40,0 L1123.01,512 M837.00,0 L1132.61,512 M846.60,0 L1142.21,512 M856.20,0 L1151.81,512 M865.80,0 L1161.41,512 M875.40,0 L1171.01,512 M885.00,0 L1180.61,512 M894.60,0 L1190.21,512 M904.20,0 L1199.81,512 M913.80,0 L1209.41,512 M923.40,0 L1219.01,512 M933.00,0 L1228.61,512 M942.60,0 L1238.21,512 M952.20,0 L1247.81,512 M961.80,0 L1257.41,512 M971.40,0 L1267.01,512 M981.00,0 L1276.61,512 M990.60,0 L1286.21,512 M1000.20,0 L1295.81,512 M1009.80,0 L1305.41,512 M1019.40,0 L1315.01,512 M1029.00,0 L1324.61,512 M1038.60,0 L1334.21,512 M1048.20,0 L1343.81,512 M1057.80,0 L1353.41,512 M1067.40,0 L1363.01,512 M1077.00,0 L1372.61,512 M1086.60,0 L1382.21,512 M1096.20,0 L1391.81,512 M1105.80,0 L1401.41,512 M1115.40,0 L1411.01,512 M1125.00,0 L1420.61,512 M1134.60,0 L1430.21,512 M1144.20,0 L1439.81,512 M1153.80,0 L1449.41,512 M1163.40,0 L1459.01,512 M1173.00,0 L1468.61,512 M1182.60,0 L1478.21,512 M1192.20,0 L1487.81,512 M1201.80,0 L1497.41,512 M1211.40,0 L1507.01,512 M1221.00,0 L1516.61,512 M1230.60,0 L1526.21,512 M1240.20,0 L1535.81,512 M1249.80,0 L1545.41,512 M1259.40,0 L1555.01,512 M1269.00,0 L1564.61,512 M1278.60,0 L1574.21,512 M1288.20,0 L1583.81,512 M1297.80,0 L1593.41,512" stroke="#dd96dd" stroke-width="1.4" fill="none" clip-path="url(#cpurple)"/></g>
<path d="M125.00,166.90 L127.22,165.35 L129.44,163.81 L131.66,162.32 L133.88,160.88 L136.10,159.48 L138.32,158.13 L140.55,156.81 L142.77,155.54 L144.99,154.31 L147.21,153.12 L149.43,151.96 L151.65,150.84 L153.87,149.75 L156.09,148.70 L158.31,147.68 L160.53,146.69 L162.75,145.73 L164.97,144.80 L167.19,143.90 L169.41,143.03 L171.64,142.19 L173.86,141.38 L176.08,140.59 L178.30,139.83 L180.52,139.09 L182.74,138.38 L184.96,137.69 L187.18,137.03 L189.40,136.39 L191.62,135.77 L193.84,135.17 L196.06,134.59 L198.28,134.04 L200.51,133.51 L202.73,132.99 L204.95,132.50 L207.17,132.03 L209.39,131.57 L211.61,131.13 L213.83,130.72 L216.05,130.32 L218.27,129.93 L220.49,129.57 L222.71,129.22 L224.93,128.89 L227.15,128.57 L229.37,128.27 L231.60,127.99 L233.82,127.72 L236.04,127.47 L238.26,127.23 L240.48,127.01 L242.70,126.80 L244.92,126.61 L247.14,126.43 L249.36,126.27 L251.58,126.11 L253.80,125.98 L256.02,125.85 L258.24,125.74 L260.46,125.64 L262.69,125.56 L264.91,125.48 L267.13,125.42 L269.35,125.37 L271.57,125.34 L273.79,125.31 L276.01,125.30 L278.23,125.29 L280.45,125.30 L282.67,125.33 L284.89,125.36 L287.11,125.40 L289.33,125.45 L291.56,125.52 L293.78,125.59 L296.00,125.68 L298.22,125.77 L300.44,125.88 L302.66,126.00 L304.88,126.12 L307.10,126.26 L309.32,126.40 L311.54,126.56 L313.76,126.72 L315.98,126.89 L318.20,127.08 L320.42,127.27 L322.65,127.47 L324.87,127.68 L327.09,127.90 L329.31,128.13 L331.53,128.36 L333.75,128.61 L335.97,128.86 L338.19,129.12 L340.41,129.39 L342.63,129.67 L344.85,129.95 L347.07,130.25 L349.29,130.55 L351.52,130.86 L353.74,131.18 L355.96,131.50 L358.18,131.84 L360.40,132.18 L362.62,132.53 L364.84,132.88 L367.06,133.24 L369.28,133.61 L371.50,133.99 L373.72,134.38 L375.94,134.77 L378.16,135.17 L380.38,135.57 L382.61,135.98 L384.83,136.40 L387.05,136.83 L389.27,137.26 L391.49,137.70 L393.71,138.15 L395.93,138.60 L398.15,139.06 L400.37,139.52 L402.59,140.00 L404.81,140.47 L407.03,140.96 L409.25,141.45 L411.47,141.95 L413.70,142.45 L415.92,142.96 L418.14,143.47 L420.36,143.99 L422.58,144.52 L424.80,145.05 L427.02,145.59 L429.24,146.13 L431.46,146.68 L433.68,147.24 L435.90,147.80 L438.12,148.36 L440.34,148.93 L442.57,149.51 L444.79,150.09 L447.01,150.68 L449.23,151.28 L451.45,151.87 L453.67,152.48 L455.89,153.09 L458.11,153.70 L460.33,154.32 L462.55,154.95 L464.77,155.58 L466.99,156.21 L469.21,156.85 L471.43,157.49 L473.66,158.14 L475.88,158.80 L478.10,159.46 L480.32,160.12 L482.54,160.79 L484.76,161.46 L486.98,162.14 L489.20,162.82 L491.42,163.51 L493.64,164.20 L495.86,164.90 L498.08,165.60 L500.30,166.31 L502.53,167.02 L504.75,167.73 L506.97,168.45 L509.19,169.17 L511.41,169.90 L513.63,170.63 L515.85,171.37 L518.07,172.11 L520.29,172.86 L522.51,173.60 L524.73,174.36 L526.95,175.12 L529.17,175.88 L531.39,176.64 L533.62,177.41 L535.84,178.19 L538.06,178.96 L540.28,179.74 L542.50,180.53 L544.72,181.32 L546.94,182.11 L549.16,182.91 L551.38,183.71 L553.60,184.52 L555.82,185.33 L558.04,186.14 L560.26,186.96 L562.48,187.78 L564.71,188.60 L566.93,189.43 L569.15,190.26 L571.37,191.09 L573.59,191.93 L575.81,192.77 L578.03,193.62 L580.25,194.47 L582.47,195.32 L584.69,196.18 L586.91,197.04 L589.13,197.90 L591.35,198.77 L593.58,199.64 L595.80,200.51 L598.02,201.39 L600.24,202.27 L602.46,203.15 L604.68,204.04 L606.90,204.93 L609.12,205.82 L611.34,206.72 L613.56,207.62 L615.78,208.52 L618.00,209.43 L620.22,210.34 L622.44,211.25 L624.67,212.17 L626.89,213.09 L629.11,214.01 L631.33,214.93 L633.55,215.86 L635.77,216.79 L637.99,217.73 L640.21,218.67 L642.43,219.61 L644.65,220.55 L646.87,221.50 L649.09,222.45 L651.31,223.40 L653.54,224.35 L655.76,225.31 L657.98,226.27 L660.20,227.24 L662.42,228.21 L664.64,229.18 L666.86,230.15 L669.08,231.12 L671.30,232.10 L673.52,233.08 L675.74,234.07 L677.96,235.05 L680.18,236.04 L682.40,237.03 L684.63,238.03 L686.85,239.03 L689.07,240.03 L691.29,241.03 L693.51,242.04 L695.73,243.04 L697.95,244.05 L700.17,245.07 L702.39,246.08 L704.61,247.10 L706.83,248.12 L709.05,249.15 L711.27,250.17 L713.49,251.20 L715.72,252.23 L717.94,253.27 L720.16,254.30 L722.38,255.34 L724.60,256.38 L726.82,257.43 L729.04,258.47 L731.26,259.52 L733.48,260.57 L735.70,261.63 L737.92,262.68 L740.14,263.74 L742.36,264.80 L744.59,265.86 L746.81,266.93 L749.03,268.00 L751.25,269.07 L753.47,270.14 L755.69,271.21 L757.91,272.29 L760.13,273.37 L762.35,274.45 L764.57,275.53 L766.79,276.62 L769.01,277.71 L771.23,278.80 L773.45,279.89 L775.68,280.98 L777.90,282.08 L780.12,283.18 L782.34,284.28 L784.56,285.38 L786.78,286.49 L789.00,287.60" stroke="#a020f0" stroke-width="2.3" fill="none"/>
<path d="M125.00,151.70 L127.22,149.87 L129.44,148.03 L131.66,146.23 L133.88,144.47 L136.10,142.76 L138.32,141.08 L140.55,139.45 L142.77,137.85 L144.99,136.30 L147.21,134.79 L149.43,133.33 L151.65,131.90 L153.87,130.52 L156.09,129.17 L158.31,127.87 L160.53,126.60 L162.75,125.38 L164.97,124.19 L167.19,123.04 L169.41,121.93 L171.64,120.86 L173.86,119.82 L176.08,118.82 L178.30,117.85 L180.52,116.92 L182.74,116.02 L184.96,115.16 L187.18,114.33 L189.40,113.53 L191.62,112.76 L193.84,112.02 L196.06,111.31 L198.28,110.64 L200.51,109.99 L202.73,109.36 L204.95,108.77 L207.17,108.20 L209.39,107.66 L211.61,107.15 L213.83,106.66 L216.05,106.19 L218.27,105.75 L220.49,105.33 L222.71,104.93 L224.93,104.56 L227.15,104.21 L229.37,103.88 L231.60,103.57 L233.82,103.28 L236.04,103.01 L238.26,102.76 L240.48,102.53 L242.70,102.31 L244.92,102.12 L247.14,101.94 L249.36,101.78 L251.58,101.64 L253.80,101.51 L256.02,101.39 L258.24,101.30 L260.46,101.22 L262.69,101.15 L264.91,101.09 L267.13,101.06 L269.35,101.03 L271.57,101.02 L273.79,101.02 L276.01,101.03 L278.23,101.06 L280.45,101.09 L282.67,101.14 L284.89,101.20 L287.11,101.27 L289.33,101.35 L291.56,101.45 L293.78,101.55 L296.00,101.66 L298.22,101.78 L300.44,101.92 L302.66,102.06 L304.88,102.21 L307.10,102.37 L309.32,102.54 L311.54,102.71 L313.76,102.90 L315.98,103.09 L318.20,103.29 L320.42,103.50 L322.65,103.71 L324.87,103.94 L327.09,104.17 L329.31,104.40 L331.53,104.64 L333.75,104.89 L335.97,105.15 L338.19,105.41 L340.41,105.68 L342.63,105.96 L344.85,106.24 L347.07,106.52 L349.29,106.81 L351.52,107.11 L353.74,107.41 L355.96,107.72 L358.18,108.03 L360.40,108.35 L362.62,108.67 L364.84,109.00 L367.06,109.33 L369.28,109.67 L371.50,110.01 L373.72,110.35 L375.94,110.70 L378.16,111.06 L380.38,111.41 L382.61,111.77 L384.83,112.14 L387.05,112.51 L389.27,112.88 L391.49,113.26 L393.71,113.64 L395.93,114.02 L398.15,114.41 L400.37,114.80 L402.59,115.19 L404.81,115.59 L407.03,115.98 L409.25,116.39 L411.47,116.79 L413.70,117.20 L415.92,117.61 L418.14,118.03 L420.36,118.44 L422.58,118.86 L424.80,119.29 L427.02,119.71 L429.24,120.14 L431.46,120.57 L433.68,121.00 L435.90,121.44 L438.12,121.87 L440.34,122.31 L442.57,122.76 L444.79,123.20 L447.01,123.65 L449.23,124.10 L451.45,124.55 L453.67,125.00 L455.89,125.46 L458.11,125.92 L460.33,126.38 L462.55,126.84 L464.77,127.30 L466.99,127.77 L469.21,128.24 L471.43,128.71 L473.66,129.18 L475.88,129.65 L478.10,130.13 L480.32,130.61 L482.54,131.09 L484.76,131.57 L486.98,132.05 L489.20,132.54 L491.42,133.02 L493.64,133.51 L495.86,134.00 L498.08,134.49 L500.30,134.99 L502.53,135.48 L504.75,135.98 L506.97,136.48 L509.19,136.98 L511.41,137.48 L513.63,137.99 L515.85,138.49 L518.07,139.00 L520.29,139.51 L522.51,140.02 L524.73,140.53 L526.95,141.05 L529.17,141.56 L531.39,142.08 L533.62,142.60 L535.84,143.12 L538.06,143.64 L540.28,144.17 L542.50,144.69 L544.72,145.22 L546.94,145.75 L549.16,146.28 L551.38,146.81 L553.60,147.34 L555.82,147.88 L558.04,148.41 L560.26,148.95 L562.48,149.49 L564.71,150.03 L566.93,150.58 L569.15,151.12 L571.37,151.67 L573.59,152.21 L575.81,152.76 L578.03,153.31 L580.25,153.87 L582.47,154.42 L584.69,154.98 L586.91,155.53 L589.13,156.09 L591.35,156.65 L593.58,157.21 L595.80,157.78 L598.02,158.34 L600.24,158.91 L602.46,159.48 L604.68,160.05 L606.90,160.62 L609.12,161.19 L611.34,161.77 L613.56,162.34 L615.78,162.92 L618.00,163.50 L620.22,164.08 L622.44,164.67 L624.67,165.25 L626.89,165.84 L629.11,166.42 L631.33,167.01 L633.55,167.61 L635.77,168.20 L637.99,168.79 L640.21,169.39 L642.43,169.99 L644.65,170.59 L646.87,171.19 L649.09,171.79 L651.31,172.40 L653.54,173.00 L655.76,173.61 L657.98,174.22 L660.20,174.83 L662.42,175.45 L664.64,176.06 L666.86,176.68 L669.08,177.30 L671.30,177.92 L673.52,178.54 L675.74,179.17 L677.96,179.79 L680.18,180.42 L682.40,181.05 L684.63,181.68 L686.85,182.32 L689.07,182.95 L691.29,183.59 L693.51,184.23 L695.73,184.87 L697.95,185.51 L700.17,186.16 L702.39,186.80 L704.61,187.45 L706.83,188.10 L709.05,188.75 L711.27,189.41 L713.49,190.07 L715.72,190.72 L717.94,191.38 L720.16,192.05 L722.38,192.71 L724.60,193.38 L726.82,194.04 L729.04,194.71 L731.26,195.38 L733.48,196.06 L735.70,196.73 L737.92,197.41 L740.14,198.09 L742.36,198.77 L744.59,199.46 L746.81,200.14 L749.03,200.83 L751.25,201.52 L753.47,202.21 L755.69,202.91 L757.91,203.60 L760.13,204.30 L762.35,205.00 L764.57,205.71 L766.79,206.41 L769.01,207.12 L771.23,207.83 L773.45,208.54 L775.68,209.25 L777.90,209.97 L780.12,210.68 L782.34,211.40 L784.56,212.12 L786.78,212.85 L789.00,213.58" stroke="#bebebe" stroke-width="2.3" fill="none" stroke-dasharray="8.5,8.6"/>
<path d="M125.00,302.70 L126.68,301.99 L128.36,301.22 L130.04,300.41 L131.73,299.59 L133.41,298.75 L135.09,297.90 L136.77,297.05 L138.45,296.21 L140.13,295.37 L141.82,294.55 L143.50,293.74 L145.18,292.95 L146.86,292.17 L148.54,291.42 L150.22,290.68 L151.91,289.97 L153.59,289.28 L155.27,288.61 L156.95,287.97 L158.63,287.34 L160.31,286.74 L162.00,286.16 L163.68,285.60 L165.36,285.07 L167.04,284.55 L168.72,284.05 L170.40,283.57 L172.08,283.11 L173.77,282.67 L175.45,282.25 L177.13,281.84 L178.81,281.44 L180.49,281.06 L182.17,280.70 L183.86,280.35 L185.54,280.01 L187.22,279.69 L188.90,279.37 L190.58,279.07 L192.26,278.78 L193.95,278.50 L195.63,278.23 L197.31,277.96 L198.99,277.71 L200.67,277.46 L202.35,277.23 L204.04,277.00 L205.72,276.77 L207.40,276.56 L209.08,276.35 L210.76,276.14 L212.44,275.95 L214.13,275.75 L215.81,275.57 L217.49,275.39 L219.17,275.21 L220.85,275.04 L222.53,274.88 L224.21,274.71 L225.90,274.56 L227.58,274.40 L229.26,274.26 L230.94,274.11 L232.62,273.97 L234.30,273.84 L235.99,273.71 L237.67,273.58 L239.35,273.45 L241.03,273.33 L242.71,273.22 L244.39,273.11 L246.08,273.00 L247.76,272.90 L249.44,272.80 L251.12,272.70 L252.80,272.61 L254.48,272.52 L256.17,272.44 L257.85,272.36 L259.53,272.29 L261.21,272.22 L262.89,272.15 L264.57,272.09 L266.25,272.04 L267.94,271.99 L269.62,271.94 L271.30,271.90 L272.98,271.86 L274.66,271.83 L276.34,271.80 L278.03,271.78 L279.71,271.77 L281.39,271.76 L283.07,271.75 L284.75,271.75 L286.43,271.76 L288.12,271.77 L289.80,271.79 L291.48,271.81 L293.16,271.84 L294.84,271.88 L296.52,271.92 L298.21,271.97 L299.89,272.02 L301.57,272.09 L303.25,272.15 L304.93,272.23 L306.61,272.31 L308.29,272.40 L309.98,272.49 L311.66,272.60 L313.34,272.71 L315.02,272.82 L316.70,272.94 L318.38,273.08 L320.07,273.21 L321.75,273.36 L323.43,273.51 L325.11,273.67 L326.79,273.84 L328.47,274.01 L330.16,274.20 L331.84,274.39 L333.52,274.59 L335.20,274.79 L336.88,275.01 L338.56,275.23 L340.25,275.46 L341.93,275.70 L343.61,275.94 L345.29,276.20 L346.97,276.46 L348.65,276.73 L350.34,277.01 L352.02,277.30 L353.70,277.59 L355.38,277.90 L357.06,278.21 L358.74,278.53 L360.42,278.85 L362.11,279.19 L363.79,279.54 L365.47,279.89 L367.15,280.25 L368.83,280.62 L370.51,281.00 L372.20,281.38 L373.88,281.78 L375.56,282.18 L377.24,282.59 L378.92,283.01 L380.60,283.44 L382.29,283.88 L383.97,284.32 L385.65,284.78 L387.33,285.24 L389.01,285.71 L390.69,286.18 L392.38,286.67 L394.06,287.17 L395.74,287.67 L397.42,288.18 L399.10,288.70 L400.78,289.22 L402.46,289.76 L404.15,290.30 L405.83,290.85 L407.51,291.41 L409.19,291.98 L410.87,292.55 L412.55,293.14 L414.24,293.73 L415.92,294.32 L417.60,294.93 L419.28,295.54 L420.96,296.17 L422.64,296.79 L424.33,297.43 L426.01,298.07 L427.69,298.73 L429.37,299.38 L431.05,300.05 L432.73,300.72 L434.42,301.40 L436.10,302.09 L437.78,302.79 L439.46,303.49 L441.14,304.20 L442.82,304.91 L444.51,305.64 L446.19,306.37 L447.87,307.10 L449.55,307.84 L451.23,308.59 L452.91,309.35 L454.59,310.11 L456.28,310.88 L457.96,311.66 L459.64,312.44 L461.32,313.23 L463.00,314.02 L464.68,314.82 L466.37,315.63 L468.05,316.44 L469.73,317.26 L471.41,318.08 L473.09,318.91 L474.77,319.74 L476.46,320.58 L478.14,321.43 L479.82,322.28 L481.50,323.14 L483.18,324.00 L484.86,324.86 L486.55,325.74 L488.23,326.61 L489.91,327.49 L491.59,328.38 L493.27,329.27 L494.95,330.17 L496.63,331.07 L498.32,331.97 L500.00,332.88 L501.68,333.80 L503.36,334.71 L505.04,335.64 L506.72,336.56 L508.41,337.49 L510.09,338.42 L511.77,339.36 L513.45,340.30 L515.13,341.25 L516.81,342.20 L518.50,343.15 L520.18,344.10 L521.86,345.06 L523.54,346.02 L525.22,346.99 L526.90,347.96 L528.59,348.93 L530.27,349.90 L531.95,350.87 L533.63,351.85 L535.31,352.83 L536.99,353.82 L538.67,354.80 L540.36,355.79 L542.04,356.78 L543.72,357.77 L545.40,358.77 L547.08,359.77 L548.76,360.76 L550.45,361.76 L552.13,362.76 L553.81,363.77 L555.49,364.77 L557.17,365.78 L558.85,366.78 L560.54,367.79 L562.22,368.80 L563.90,369.81 L565.58,370.82 L567.26,371.83 L568.94,372.85 L570.63,373.86 L572.31,374.87 L573.99,375.89 L575.67,376.90 L577.35,377.92 L579.03,378.93 L580.72,379.94 L582.40,380.96 L584.08,381.97 L585.76,382.99 L587.44,384.00 L589.12,385.02 L590.80,386.03 L592.49,387.04 L594.17,388.05 L595.85,389.06 L597.53,390.07 L599.21,391.08 L600.89,392.09 L602.58,393.10 L604.26,394.10 L605.94,395.11 L607.62,396.11 L609.30,397.11 L610.98,398.11 L612.67,399.11 L614.35,400.10 L616.03,401.10 L617.71,402.09 L619.39,403.08 L621.07,404.07 L622.76,405.06 L624.44,406.04 L626.12,407.02 L627.80,408.00" stroke="#bebebe" stroke-width="2.3" fill="none" stroke-dasharray="8.5,8.6"/>
<path d="M125.00,190.60 L127.01,190.60 L129.02,190.60 L131.03,190.60 L133.04,190.60 L135.05,190.60 L137.06,190.60 L139.07,190.60 L141.08,190.60 L143.09,190.60 L145.10,190.60 L147.11,190.60 L149.12,190.60 L151.13,190.60 L153.14,190.60 L155.15,190.60 L157.16,190.60 L159.17,190.60 L161.18,190.60 L163.19,190.60 L165.20,190.60 L167.21,190.60 L169.22,190.60 L171.23,190.60 L173.24,190.60 L175.25,190.60 L177.26,190.60 L179.27,190.60 L181.28,190.60 L183.29,190.60 L185.30,190.60 L187.31,190.60 L189.32,190.60 L191.33,190.60 L193.34,190.60 L195.35,190.60 L197.36,190.60 L199.37,190.60 L201.38,190.60 L203.39,190.60 L205.40,190.60 L207.41,190.60 L209.42,190.60 L211.43,190.60 L213.44,190.60 L215.45,190.60 L217.46,190.60 L219.47,190.60 L221.48,190.60 L223.49,190.60 L225.50,190.60 L227.51,190.60 L229.52,190.60 L231.53,190.60 L233.54,190.60 L235.55,190.60 L237.56,190.60 L239.57,190.60 L241.58,190.62 L243.59,190.68 L245.60,190.79 L247.61,190.92 L249.62,191.08 L251.63,191.26 L253.64,191.45 L255.65,191.64 L257.66,191.81 L259.67,191.98 L261.68,192.12 L263.69,192.26 L265.70,192.40 L267.71,192.54 L269.72,192.68 L271.73,192.82 L273.74,192.97 L275.75,193.12 L277.76,193.27 L279.77,193.43 L281.78,193.61 L283.79,193.79 L285.80,193.98 L287.81,194.19 L289.82,194.42 L291.83,194.66 L293.84,194.92 L295.85,195.20 L297.86,195.49 L299.87,195.79 L301.88,196.10 L303.89,196.41 L305.90,196.74 L307.91,197.06 L309.92,197.39 L311.93,197.72 L313.94,198.04 L315.95,198.37 L317.96,198.68 L319.97,199.00 L321.98,199.30 L323.99,199.61 L326.00,199.92 L328.01,200.23 L330.02,200.54 L332.03,200.85 L334.04,201.16 L336.05,201.48 L338.06,201.79 L340.07,202.11 L342.08,202.43 L344.09,202.75 L346.10,203.07 L348.11,203.40 L350.12,203.73 L352.13,204.06 L354.14,204.40 L356.15,204.74 L358.16,205.08 L360.17,205.43 L362.18,205.78 L364.19,206.13 L366.20,206.49 L368.21,206.85 L370.22,207.21 L372.23,207.57 L374.24,207.94 L376.25,208.31 L378.26,208.69 L380.27,209.06 L382.28,209.45 L384.29,209.83 L386.30,210.22 L388.31,210.62 L390.32,211.01 L392.33,211.42 L394.34,211.83 L396.35,212.24 L398.36,212.66 L400.37,213.08 L402.38,213.51 L404.39,213.94 L406.40,214.37 L408.41,214.81 L410.42,215.25 L412.43,215.70 L414.44,216.15 L416.45,216.60 L418.46,217.06 L420.47,217.53 L422.48,218.00 L424.49,218.48 L426.51,218.96 L428.52,219.45 L430.53,219.94 L432.54,220.45 L434.55,220.96 L436.56,221.47 L438.57,222.00 L440.58,222.53 L442.59,223.07 L444.60,223.61 L446.61,224.17 L448.62,224.74 L450.63,225.32 L452.64,225.92 L454.65,226.54 L456.66,227.16 L458.67,227.80 L460.68,228.44 L462.69,229.10 L464.70,229.77 L466.71,230.44 L468.72,231.12 L470.73,231.80 L472.74,232.49 L474.75,233.18 L476.76,233.88 L478.77,234.57 L480.78,235.27 L482.79,235.98 L484.80,236.70 L486.81,237.43 L488.82,238.17 L490.83,238.92 L492.84,239.68 L494.85,240.45 L496.86,241.21 L498.87,241.99 L500.88,242.76 L502.89,243.54 L504.90,244.31 L506.91,245.08 L508.92,245.86 L510.93,246.62 L512.94,247.38 L514.95,248.14 L516.96,248.89 L518.97,249.62 L520.98,250.35 L522.99,251.07 L525.00,251.79 L527.01,252.50 L529.02,253.21 L531.03,253.91 L533.04,254.61 L535.05,255.30 L537.06,256.00 L539.07,256.69 L541.08,257.39 L543.09,258.08 L545.10,258.77 L547.11,259.47 L549.12,260.16 L551.13,260.86 L553.14,261.57 L555.15,262.27 L557.16,262.98 L559.17,263.70 L561.18,264.42 L563.19,265.14 L565.20,265.85 L567.21,266.56 L569.22,267.27 L571.23,267.98 L573.24,268.68 L575.25,269.39 L577.26,270.10 L579.27,270.81 L581.28,271.53 L583.29,272.25 L585.30,272.97 L587.31,273.71 L589.32,274.45 L591.33,275.19 L593.34,275.95 L595.35,276.72 L597.36,277.50 L599.37,278.29 L601.38,279.09 L603.39,279.91 L605.40,280.75 L607.41,281.60 L609.42,282.50 L611.43,283.43 L613.44,284.39 L615.45,285.37 L617.46,286.36 L619.47,287.36 L621.48,288.35 L623.49,289.34 L625.50,290.31 L627.51,291.26 L629.52,292.18 L631.53,293.08 L633.54,293.95 L635.55,294.82 L637.56,295.67 L639.57,296.51 L641.58,297.34 L643.59,298.17 L645.60,298.99 L647.61,299.80 L649.62,300.61 L651.63,301.42 L653.64,302.23 L655.65,303.05 L657.66,303.86 L659.67,304.68 L661.68,305.50 L663.69,306.33 L665.70,307.17 L667.71,308.02 L669.72,308.88 L671.73,309.75 L673.74,310.63 L675.75,311.52 L677.76,312.41 L679.77,313.31 L681.78,314.21 L683.79,315.12 L685.80,316.03 L687.81,316.95 L689.82,317.86 L691.83,318.78 L693.84,319.70 L695.85,320.62 L697.86,321.53 L699.87,322.45 L701.88,323.36 L703.89,324.27 L705.90,325.17 L707.91,326.07 L709.92,326.96 L711.93,327.85 L713.94,328.74 L715.95,329.62 L717.96,330.50 L719.97,331.38 L721.98,332.25 L723.99,333.13 L726.00,334.00" stroke="#006400" stroke-width="4.7" fill="none" stroke-dasharray="9.0,3.95,2.3,3.95"/>
</g>
<rect x="125.05" y="23.85" width="664.7" height="384.84999999999997" fill="none" stroke="#000" stroke-width="1.9"/>
<path d="M125.05,408.7 v-8.0 M125.05,23.85 v8.0 M136.13,408.7 v-4.0 M136.13,23.85 v4.0 M147.21,408.7 v-4.0 M147.21,23.85 v4.0 M158.28,408.7 v-4.0 M158.28,23.85 v4.0 M169.36,408.7 v-4.0 M169.36,23.85 v4.0 M180.44,408.7 v-4.0 M180.44,23.85 v4.0 M191.52,408.7 v-4.0 M191.52,23.85 v4.0 M202.60,408.7 v-4.0 M202.60,23.85 v4.0 M213.68,408.7 v-4.0 M213.68,23.85 v4.0 M224.75,408.7 v-4.0 M224.75,23.85 v4.0 M235.83,408.7 v-8.0 M235.83,23.85 v8.0 M246.91,408.7 v-4.0 M246.91,23.85 v4.0 M257.99,408.7 v-4.0 M257.99,23.85 v4.0 M269.07,408.7 v-4.0 M269.07,23.85 v4.0 M280.15,408.7 v-4.0 M280.15,23.85 v4.0 M291.23,408.7 v-4.0 M291.23,23.85 v4.0 M302.30,408.7 v-4.0 M302.30,23.85 v4.0 M313.38,408.7 v-4.0 M313.38,23.85 v4.0 M324.46,408.7 v-4.0 M324.46,23.85 v4.0 M335.54,408.7 v-4.0 M335.54,23.85 v4.0 M346.62,408.7 v-8.0 M346.62,23.85 v8.0 M357.70,408.7 v-4.0 M357.70,23.85 v4.0 M368.77,408.7 v-4.0 M368.77,23.85 v4.0 M379.85,408.7 v-4.0 M379.85,23.85 v4.0 M390.93,408.7 v-4.0 M390.93,23.85 v4.0 M402.01,408.7 v-4.0 M402.01,23.85 v4.0 M413.09,408.7 v-4.0 M413.09,23.85 v4.0 M424.17,408.7 v-4.0 M424.17,23.85 v4.0 M435.24,408.7 v-4.0 M435.24,23.85 v4.0 M446.32,408.7 v-4.0 M446.32,23.85 v4.0 M457.40,408.7 v-8.0 M457.40,23.85 v8.0 M468.48,408.7 v-4.0 M468.48,23.85 v4.0 M479.56,408.7 v-4.0 M479.56,23.85 v4.0 M490.64,408.7 v-4.0 M490.64,23.85 v4.0 M501.71,408.7 v-4.0 M501.71,23.85 v4.0 M512.79,408.7 v-4.0 M512.79,23.85 v4.0 M523.87,408.7 v-4.0 M523.87,23.85 v4.0 M534.95,408.7 v-4.0 M534.95,23.85 v4.0 M546.03,408.7 v-4.0 M546.03,23.85 v4.0 M557.11,408.7 v-4.0 M557.11,23.85 v4.0 M568.18,408.7 v-8.0 M568.18,23.85 v8.0 M579.26,408.7 v-4.0 M579.26,23.85 v4.0 M590.34,408.7 v-4.0 M590.34,23.85 v4.0 M601.42,408.7 v-4.0 M601.42,23.85 v4.0 M612.50,408.7 v-4.0 M612.50,23.85 v4.0 M623.58,408.7 v-4.0 M623.58,23.85 v4.0 M634.65,408.7 v-4.0 M634.65,23.85 v4.0 M645.73,408.7 v-4.0 M645.73,23.85 v4.0 M656.81,408.7 v-4.0 M656.81,23.85 v4.0 M667.89,408.7 v-4.0 M667.89,23.85 v4.0 M678.97,408.7 v-8.0 M678.97,23.85 v8.0 M690.04,408.7 v-4.0 M690.04,23.85 v4.0 M701.12,408.7 v-4.0 M701.12,23.85 v4.0 M712.20,408.7 v-4.0 M712.20,23.85 v4.0 M723.28,408.7 v-4.0 M723.28,23.85 v4.0 M734.36,408.7 v-4.0 M734.36,23.85 v4.0 M745.44,408.7 v-4.0 M745.44,23.85 v4.0 M756.52,408.7 v-4.0 M756.52,23.85 v4.0 M767.59,408.7 v-4.0 M767.59,23.85 v4.0 M778.67,408.7 v-4.0 M778.67,23.85 v4.0 M789.75,408.7 v-8.0 M789.75,23.85 v8.0 M125.05,408.70 h13.0 M789.75,408.70 h-13.0 M125.05,385.53 h6.5 M789.75,385.53 h-6.5 M125.05,371.98 h6.5 M789.75,371.98 h-6.5 M125.05,362.36 h6.5 M789.75,362.36 h-6.5 M125.05,354.90 h6.5 M789.75,354.90 h-6.5 M125.05,348.81 h6.5 M789.75,348.81 h-6.5 M125.05,343.65 h6.5 M789.75,343.65 h-6.5 M125.05,339.19 h6.5 M789.75,339.19 h-6.5 M125.05,335.25 h6.5 M789.75,335.25 h-6.5 M125.05,331.73 h13.0 M789.75,331.73 h-13.0 M125.05,308.56 h6.5 M789.75,308.56 h-6.5 M125.05,295.01 h6.5 M789.75,295.01 h-6.5 M125.05,285.39 h6.5 M789.75,285.39 h-6.5 M125.05,277.93 h6.5 M789.75,277.93 h-6.5 M125.05,271.84 h6.5 M789.75,271.84 h-6.5 M125.05,266.68 h6.5 M789.75,266.68 h-6.5 M125.05,262.22 h6.5 M789.75,262.22 h-6.5 M125.05,258.28 h6.5 M789.75,258.28 h-6.5 M125.05,254.76 h13.0 M789.75,254.76 h-13.0 M125.05,231.59 h6.5 M789.75,231.59 h-6.5 M125.05,218.04 h6.5 M789.75,218.04 h-6.5 M125.05,208.42 h6.5 M789.75,208.42 h-6.5 M125.05,200.96 h6.5 M789.75,200.96 h-6.5 M125.05,194.87 h6.5 M789.75,194.87 h-6.5 M125.05,189.71 h6.5 M789.75,189.71 h-6.5 M125.05,185.25 h6.5 M789.75,185.25 h-6.5 M125.05,181.31 h6.5 M789.75,181.31 h-6.5 M125.05,177.79 h13.0 M789.75,177.79 h-13.0 M125.05,154.62 h6.5 M789.75,154.62 h-6.5 M125.05,141.07 h6.5 M789.75,141.07 h-6.5 M125.05,131.45 h6.5 M789.75,131.45 h-6.5 M125.05,123.99 h6.5 M789.75,123.99 h-6.5 M125.05,117.90 h6.5 M789.75,117.90 h-6.5 M125.05,112.74 h6.5 M789.75,112.74 h-6.5 M125.05,108.28 h6.5 M789.75,108.28 h-6.5 M125.05,104.34 h6.5 M789.75,104.34 h-6.5 M125.05,100.82 h13.0 M789.75,100.82 h-13.0 M125.05,77.65 h6.5 M789.75,77.65 h-6.5 M125.05,64.10 h6.5 M789.75,64.10 h-6.5 M125.05,54.48 h6.5 M789.75,54.48 h-6.5 M125.05,47.02 h6.5 M789.75,47.02 h-6.5 M125.05,40.93 h6.5 M789.75,40.93 h-6.5 M125.05,35.77 h6.5 M789.75,35.77 h-6.5 M125.05,31.31 h6.5 M789.75,31.31 h-6.5 M125.05,27.37 h6.5 M789.75,27.37 h-6.5 M125.05,23.85 h13.0 M789.75,23.85 h-13.0" stroke="#000" stroke-width="1.6" fill="none"/>
<rect x="182.6" y="290.0" width="25.5" height="12.8" fill="#87ceeb"/>
<path d="M182.6,296.4 H208.1" stroke="#0000ff" stroke-width="2"/>
<rect x="182.6" y="310.3" width="25.5" height="12.8" fill="#f08080"/>
<path d="M182.6,316.7 H208.1" stroke="#ff0000" stroke-width="2"/>
<rect x="182.6" y="331.1" width="25.5" height="12.8" fill="#dda0dd"/>
<path d="M182.6,337.5 H208.1" stroke="#a020f0" stroke-width="2"/>
<path d="M182.6,357.7 H208.1" stroke="#bebebe" stroke-width="2.3" stroke-dasharray="8.6,8.7"/>
<path d="M182.6,378.3 H208.1" stroke="#006400" stroke-width="4.8" stroke-dasharray="9.0,3.9,2.5,3.9"/>
<g font-family="Liberation Sans, sans-serif" fill="#000" stroke="#000" stroke-width="0.25">
<text x="70.2" y="44.6" font-size="25.8" text-anchor="start" >10<tspan font-size="16.0" dy="-14.5" dx="-1.7">34</tspan></text>
<text x="70.2" y="113.2" font-size="25.8" text-anchor="start" >10<tspan font-size="16.0" dy="-14.5" dx="-1.7">33</tspan></text>
<text x="70.2" y="190.2" font-size="25.8" text-anchor="start" >10<tspan font-size="16.0" dy="-14.5" dx="-1.7">32</tspan></text>
<text x="70.2" y="267.0" font-size="25.8" text-anchor="start" >10<tspan font-size="16.0" dy="-14.5" dx="-1.7">31</tspan></text>
<text x="70.2" y="343.6" font-size="25.8" text-anchor="start" >10<tspan font-size="16.0" dy="-14.5" dx="-1.7">30</tspan></text>
<text x="70.2" y="408.2" font-size="25.8" text-anchor="start" >10<tspan font-size="16.0" dy="-14.5" dx="-1.7">29</tspan></text>
<text x="125.05" y="454.9" font-size="25.8" text-anchor="middle" >0</text>
<text x="235.83333333333334" y="454.9" font-size="25.8" text-anchor="middle" >1</text>
<text x="346.6166666666667" y="454.9" font-size="25.8" text-anchor="middle" >2</text>
<text x="457.40000000000003" y="454.9" font-size="25.8" text-anchor="middle" >3</text>
<text x="568.1833333333334" y="454.9" font-size="25.8" text-anchor="middle" >4</text>
<text x="678.9666666666667" y="454.9" font-size="25.8" text-anchor="middle" >5</text>
<text x="789.75" y="454.9" font-size="25.8" text-anchor="middle" >6</text>
<text x="457.3" y="493.6" font-size="25.8" text-anchor="middle" >z</text>
<text transform="translate(42,396.7) rotate(-90)" font-size="25.8">Kinetic power density [W Mpc<tspan font-size="16.0" dy="-14.6">-3</tspan><tspan dy="14.6">]</tspan></text>
<text y="304.1" font-size="18.3"><tspan x="226.8" textLength="31.5" lengthAdjust="spacingAndGlyphs">PLE</tspan><tspan x="263.5">using </tspan><tspan x="312.90" textLength="47.4" lengthAdjust="spacingAndGlyphs">Willott</tspan><tspan x="375.4">99 (f</tspan><tspan x="411.2" font-size="10.9" dy="4.5">W</tspan><tspan x="423.0" dy="-4.5">=4)</tspan></text><path d="M363.00,298.40 h10.5 M368.25,292.90 v11" stroke="#000" stroke-width="1.45" fill="none"/>
<text y="324.45" font-size="18.3"><tspan x="226.8" textLength="35.5" lengthAdjust="spacingAndGlyphs">PDE</tspan><tspan x="267.0">using </tspan><tspan x="316.40" textLength="47.4" lengthAdjust="spacingAndGlyphs">Willott</tspan><tspan x="378.6">99 (f</tspan><tspan x="414.4" font-size="10.9" dy="4.5">W</tspan><tspan x="426.2" dy="-4.5">=4)</tspan></text><path d="M366.30,318.75 h10.5 M371.55,313.25 v11" stroke="#000" stroke-width="1.45" fill="none"/>
<text y="344.8" font-size="18.3"><tspan x="226.8" textLength="31.5" lengthAdjust="spacingAndGlyphs">PLE</tspan><tspan x="263.25">Using </tspan><tspan x="315.65" textLength="47.4" lengthAdjust="spacingAndGlyphs">Willott</tspan><tspan x="378.4">99 (f</tspan><tspan x="414.2" font-size="10.9" dy="4.5">W</tspan><tspan x="426.0" dy="-4.5">=15)</tspan></text><path d="M366.05,339.10 h10.5 M371.30,333.60 v11" stroke="#000" stroke-width="1.45" fill="none"/>
<text y="365.15" font-size="18.3"><tspan x="226.8" textLength="31.5" lengthAdjust="spacingAndGlyphs">PLE</tspan><tspan x="263.5">limits using </tspan><tspan x="359.60" textLength="47.4" lengthAdjust="spacingAndGlyphs">Willott</tspan><tspan x="421.1">99 (f</tspan><tspan x="456.9" font-size="10.9" dy="4.5">W</tspan><tspan x="468.7" dy="-4.5">=1-20)</tspan></text><path d="M408.70,359.45 h10.5 M413.95,353.95 v11" stroke="#000" stroke-width="1.45" fill="none"/>
<text y="385.5" font-size="18.3"><tspan x="226.8">Croton</tspan><tspan x="296.0">16</tspan></text><path d="M282.70,379.80 h10.5 M287.95,374.30 v11" stroke="#000" stroke-width="1.45" fill="none"/>
</g>
</svg>
</body></html>
